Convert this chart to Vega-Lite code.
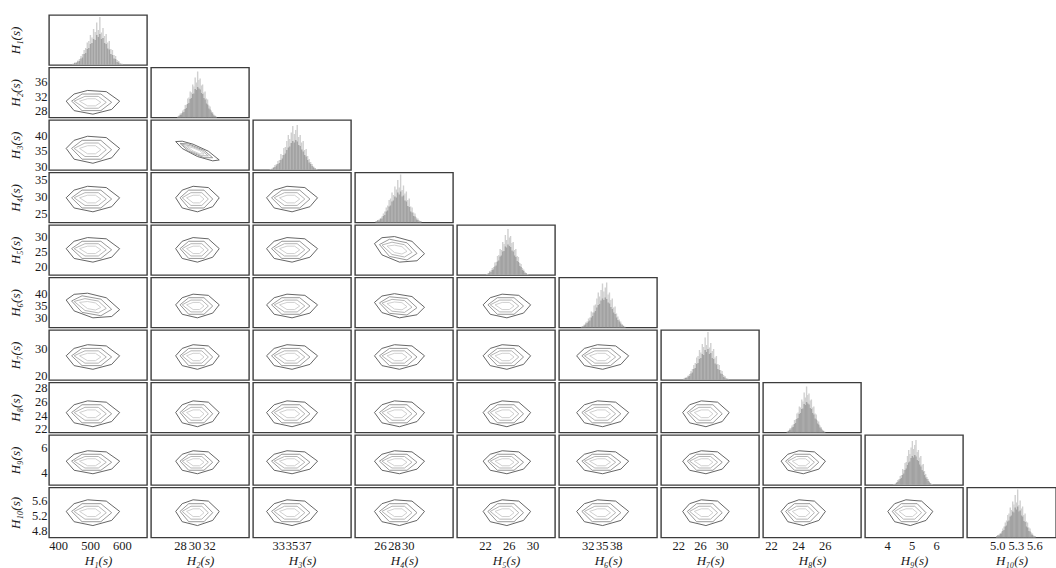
{
"$schema":"https://vega.github.io/schema/vega-lite/v6.json",
"background":"white",
"padding":{"left":8,"top":14,"right":0,"bottom":0},
"columns":10,
"spacing":{"row":2.5,"column":4},
"bounds":"flush",
"resolve":{"scale":{"x":"independent","y":"independent"}},
"config":{
"view":{"stroke":"#3c3c3c","strokeWidth":1.4},
"legend":{"disable":true},
"range":{"ordinal":["#555555","#8c8c8c","#adadad","#cbcbcb"]},
"line":{"interpolate":"linear-closed","strokeWidth":0.9},
"axis":{"labelFont":"Liberation Serif","labelFontSize":12.5,"labelColor":"#1a1a1a","titleFont":"Liberation Serif","titleFontStyle":"italic","titleFontWeight":"normal","titleFontSize":13,"titleColor":"#1a1a1a","domain":false,"ticks":false,"grid":false,"labelOverlap":false,"labelFlush":false,"labelPadding":2,"titlePadding":2}
},
"datasets":{
"h1":[{"x":438,"n":2,"m":3},{"x":443.5,"n":4,"m":5},{"x":449,"n":4,"m":6},{"x":454.5,"n":7,"m":9},{"x":460,"n":8,"m":12},{"x":465.5,"n":13,"m":18},{"x":471,"n":15,"m":22},{"x":476.5,"n":22,"m":30},{"x":482,"n":24,"m":34},{"x":487.5,"n":32,"m":45},{"x":493,"n":34,"m":48},{"x":498.5,"n":42,"m":60},{"x":504,"n":44,"m":55},{"x":509.5,"n":52,"m":72},{"x":515,"n":50,"m":66},{"x":520.5,"n":60,"m":85},{"x":526,"n":56,"m":70},{"x":531.5,"n":62,"m":96},{"x":537,"n":52,"m":65},{"x":542.5,"n":54,"m":74},{"x":548,"n":44,"m":58},{"x":553.5,"n":42,"m":62},{"x":559,"n":33,"m":45},{"x":564.5,"n":31,"m":48},{"x":570,"n":22,"m":32},{"x":575.5,"n":20,"m":30},{"x":581,"n":13,"m":20},{"x":586.5,"n":12,"m":18},{"x":592,"n":6,"m":10},{"x":597.5,"n":5,"m":8},{"x":603,"n":2,"m":4},{"x":608.5,"n":2,"m":3}],
"h2":[{"x":27.35,"n":1,"m":2},{"x":27.54,"n":3,"m":4},{"x":27.73,"n":5,"m":8},{"x":27.92,"n":6,"m":9},{"x":28.11,"n":10,"m":14},{"x":28.3,"n":11,"m":16},{"x":28.49,"n":17,"m":25},{"x":28.68,"n":19,"m":26},{"x":28.87,"n":27,"m":38},{"x":29.06,"n":29,"m":40},{"x":29.25,"n":37,"m":52},{"x":29.44,"n":39,"m":50},{"x":29.63,"n":47,"m":66},{"x":29.82,"n":48,"m":62},{"x":30.01,"n":57,"m":80},{"x":30.2,"n":55,"m":70},{"x":30.39,"n":61,"m":92},{"x":30.58,"n":58,"m":75},{"x":30.77,"n":56,"m":78},{"x":30.96,"n":49,"m":64},{"x":31.15,"n":47,"m":66},{"x":31.34,"n":39,"m":50},{"x":31.53,"n":36,"m":52},{"x":31.72,"n":28,"m":38},{"x":31.91,"n":26,"m":36},{"x":32.1,"n":18,"m":24},{"x":32.29,"n":16,"m":22},{"x":32.48,"n":10,"m":14},{"x":32.67,"n":8,"m":11},{"x":32.86,"n":4,"m":6},{"x":33.05,"n":3,"m":4},{"x":33.24,"n":1,"m":2}],
"h3":[{"x":31.3,"n":1,"m":2},{"x":31.55,"n":2,"m":3},{"x":31.8,"n":4,"m":6},{"x":32.05,"n":6,"m":10},{"x":32.3,"n":9,"m":12},{"x":32.55,"n":12,"m":18},{"x":32.8,"n":14,"m":20},{"x":33.05,"n":20,"m":32},{"x":33.3,"n":23,"m":30},{"x":33.55,"n":30,"m":44},{"x":33.8,"n":33,"m":46},{"x":34.05,"n":40,"m":58},{"x":34.3,"n":45,"m":70},{"x":34.55,"n":47,"m":62},{"x":34.8,"n":54,"m":75},{"x":35.05,"n":58,"m":88},{"x":35.3,"n":55,"m":72},{"x":35.55,"n":60,"m":80},{"x":35.8,"n":57,"m":90},{"x":36.05,"n":50,"m":66},{"x":36.3,"n":48,"m":70},{"x":36.55,"n":41,"m":55},{"x":36.8,"n":37,"m":58},{"x":37.05,"n":30,"m":40},{"x":37.3,"n":27,"m":42},{"x":37.55,"n":20,"m":28},{"x":37.8,"n":15,"m":22},{"x":38.05,"n":12,"m":16},{"x":38.3,"n":8,"m":12},{"x":38.55,"n":5,"m":7},{"x":38.8,"n":3,"m":4},{"x":39.05,"n":1,"m":2}],
"h4":[{"x":25,"n":2,"m":3},{"x":25.23,"n":4,"m":5},{"x":25.46,"n":4,"m":6},{"x":25.69,"n":7,"m":9},{"x":25.92,"n":8,"m":12},{"x":26.15,"n":13,"m":18},{"x":26.38,"n":15,"m":22},{"x":26.61,"n":22,"m":30},{"x":26.84,"n":24,"m":34},{"x":27.07,"n":32,"m":45},{"x":27.3,"n":34,"m":48},{"x":27.53,"n":42,"m":60},{"x":27.76,"n":44,"m":55},{"x":27.99,"n":52,"m":72},{"x":28.22,"n":50,"m":66},{"x":28.45,"n":60,"m":85},{"x":28.68,"n":56,"m":70},{"x":28.91,"n":62,"m":96},{"x":29.14,"n":52,"m":65},{"x":29.37,"n":54,"m":74},{"x":29.6,"n":44,"m":58},{"x":29.83,"n":42,"m":62},{"x":30.06,"n":33,"m":45},{"x":30.29,"n":31,"m":48},{"x":30.52,"n":22,"m":32},{"x":30.75,"n":20,"m":30},{"x":30.98,"n":13,"m":20},{"x":31.21,"n":12,"m":18},{"x":31.44,"n":6,"m":10},{"x":31.67,"n":5,"m":8},{"x":31.9,"n":2,"m":4},{"x":32.13,"n":2,"m":3}],
"h5":[{"x":22,"n":1,"m":2},{"x":22.25,"n":3,"m":4},{"x":22.49,"n":5,"m":8},{"x":22.74,"n":6,"m":9},{"x":22.98,"n":10,"m":14},{"x":23.23,"n":11,"m":16},{"x":23.47,"n":17,"m":25},{"x":23.72,"n":19,"m":26},{"x":23.96,"n":27,"m":38},{"x":24.21,"n":29,"m":40},{"x":24.45,"n":37,"m":52},{"x":24.7,"n":39,"m":50},{"x":24.94,"n":47,"m":66},{"x":25.19,"n":48,"m":62},{"x":25.43,"n":57,"m":80},{"x":25.68,"n":55,"m":70},{"x":25.92,"n":61,"m":92},{"x":26.17,"n":58,"m":75},{"x":26.41,"n":56,"m":78},{"x":26.66,"n":49,"m":64},{"x":26.9,"n":47,"m":66},{"x":27.15,"n":39,"m":50},{"x":27.39,"n":36,"m":52},{"x":27.64,"n":28,"m":38},{"x":27.88,"n":26,"m":36},{"x":28.13,"n":18,"m":24},{"x":28.37,"n":16,"m":22},{"x":28.62,"n":10,"m":14},{"x":28.86,"n":8,"m":11},{"x":29.11,"n":4,"m":6},{"x":29.35,"n":3,"m":4},{"x":29.6,"n":1,"m":2}],
"h6":[{"x":30,"n":1,"m":2},{"x":30.34,"n":2,"m":3},{"x":30.67,"n":4,"m":6},{"x":31,"n":6,"m":10},{"x":31.34,"n":9,"m":12},{"x":31.68,"n":12,"m":18},{"x":32.01,"n":14,"m":20},{"x":32.35,"n":20,"m":32},{"x":32.68,"n":23,"m":30},{"x":33.02,"n":30,"m":44},{"x":33.35,"n":33,"m":46},{"x":33.69,"n":40,"m":58},{"x":34.02,"n":45,"m":70},{"x":34.36,"n":47,"m":62},{"x":34.69,"n":54,"m":75},{"x":35.03,"n":58,"m":88},{"x":35.36,"n":55,"m":72},{"x":35.7,"n":60,"m":80},{"x":36.03,"n":57,"m":90},{"x":36.37,"n":50,"m":66},{"x":36.7,"n":48,"m":70},{"x":37.04,"n":41,"m":55},{"x":37.37,"n":37,"m":58},{"x":37.71,"n":30,"m":40},{"x":38.04,"n":27,"m":42},{"x":38.38,"n":20,"m":28},{"x":38.71,"n":15,"m":22},{"x":39.05,"n":12,"m":16},{"x":39.38,"n":8,"m":12},{"x":39.72,"n":5,"m":7},{"x":40.05,"n":3,"m":4},{"x":40.39,"n":1,"m":2}],
"h7":[{"x":22.5,"n":2,"m":3},{"x":22.79,"n":4,"m":5},{"x":23.08,"n":4,"m":6},{"x":23.37,"n":7,"m":9},{"x":23.66,"n":8,"m":12},{"x":23.95,"n":13,"m":18},{"x":24.24,"n":15,"m":22},{"x":24.53,"n":22,"m":30},{"x":24.82,"n":24,"m":34},{"x":25.11,"n":32,"m":45},{"x":25.4,"n":34,"m":48},{"x":25.69,"n":42,"m":60},{"x":25.98,"n":44,"m":55},{"x":26.27,"n":52,"m":72},{"x":26.56,"n":50,"m":66},{"x":26.85,"n":60,"m":85},{"x":27.14,"n":56,"m":70},{"x":27.43,"n":62,"m":96},{"x":27.72,"n":52,"m":65},{"x":28.01,"n":54,"m":74},{"x":28.3,"n":44,"m":58},{"x":28.59,"n":42,"m":62},{"x":28.88,"n":33,"m":45},{"x":29.17,"n":31,"m":48},{"x":29.46,"n":22,"m":32},{"x":29.75,"n":20,"m":30},{"x":30.04,"n":13,"m":20},{"x":30.33,"n":12,"m":18},{"x":30.62,"n":6,"m":10},{"x":30.91,"n":5,"m":8},{"x":31.2,"n":2,"m":4},{"x":31.49,"n":2,"m":3}],
"h8":[{"x":23,"n":1,"m":2},{"x":23.1,"n":3,"m":4},{"x":23.2,"n":5,"m":8},{"x":23.3,"n":6,"m":9},{"x":23.4,"n":10,"m":14},{"x":23.5,"n":11,"m":16},{"x":23.6,"n":17,"m":25},{"x":23.7,"n":19,"m":26},{"x":23.8,"n":27,"m":38},{"x":23.9,"n":29,"m":40},{"x":24,"n":37,"m":52},{"x":24.1,"n":39,"m":50},{"x":24.2,"n":47,"m":66},{"x":24.3,"n":48,"m":62},{"x":24.4,"n":57,"m":80},{"x":24.5,"n":55,"m":70},{"x":24.6,"n":61,"m":92},{"x":24.7,"n":58,"m":75},{"x":24.8,"n":56,"m":78},{"x":24.9,"n":49,"m":64},{"x":25,"n":47,"m":66},{"x":25.1,"n":39,"m":50},{"x":25.2,"n":36,"m":52},{"x":25.3,"n":28,"m":38},{"x":25.4,"n":26,"m":36},{"x":25.5,"n":18,"m":24},{"x":25.6,"n":16,"m":22},{"x":25.7,"n":10,"m":14},{"x":25.8,"n":8,"m":11},{"x":25.9,"n":4,"m":6},{"x":26,"n":3,"m":4},{"x":26.1,"n":1,"m":2}],
"h9":[{"x":4.2,"n":1,"m":2},{"x":4.255,"n":2,"m":3},{"x":4.31,"n":4,"m":6},{"x":4.365,"n":6,"m":10},{"x":4.42,"n":9,"m":12},{"x":4.475,"n":12,"m":18},{"x":4.53,"n":14,"m":20},{"x":4.585,"n":20,"m":32},{"x":4.64,"n":23,"m":30},{"x":4.695,"n":30,"m":44},{"x":4.75,"n":33,"m":46},{"x":4.805,"n":40,"m":58},{"x":4.86,"n":45,"m":70},{"x":4.915,"n":47,"m":62},{"x":4.97,"n":54,"m":75},{"x":5.025,"n":58,"m":88},{"x":5.08,"n":55,"m":72},{"x":5.135,"n":60,"m":80},{"x":5.19,"n":57,"m":90},{"x":5.245,"n":50,"m":66},{"x":5.3,"n":48,"m":70},{"x":5.355,"n":41,"m":55},{"x":5.41,"n":37,"m":58},{"x":5.465,"n":30,"m":40},{"x":5.52,"n":27,"m":42},{"x":5.575,"n":20,"m":28},{"x":5.63,"n":15,"m":22},{"x":5.685,"n":12,"m":16},{"x":5.74,"n":8,"m":12},{"x":5.795,"n":5,"m":7},{"x":5.85,"n":3,"m":4},{"x":5.905,"n":1,"m":2}],
"h10":[{"x":4.99,"n":2,"m":3},{"x":5.01,"n":4,"m":5},{"x":5.03,"n":4,"m":6},{"x":5.05,"n":7,"m":9},{"x":5.07,"n":8,"m":12},{"x":5.09,"n":13,"m":18},{"x":5.11,"n":15,"m":22},{"x":5.13,"n":22,"m":30},{"x":5.15,"n":24,"m":34},{"x":5.17,"n":32,"m":45},{"x":5.19,"n":34,"m":48},{"x":5.21,"n":42,"m":60},{"x":5.23,"n":44,"m":55},{"x":5.25,"n":52,"m":72},{"x":5.27,"n":50,"m":66},{"x":5.29,"n":60,"m":85},{"x":5.31,"n":56,"m":70},{"x":5.33,"n":62,"m":96},{"x":5.35,"n":52,"m":65},{"x":5.37,"n":54,"m":74},{"x":5.39,"n":44,"m":58},{"x":5.41,"n":42,"m":62},{"x":5.43,"n":33,"m":45},{"x":5.45,"n":31,"m":48},{"x":5.47,"n":22,"m":32},{"x":5.49,"n":20,"m":30},{"x":5.51,"n":13,"m":20},{"x":5.53,"n":12,"m":18},{"x":5.55,"n":6,"m":10},{"x":5.57,"n":5,"m":8},{"x":5.59,"n":2,"m":4},{"x":5.61,"n":2,"m":3}],
"k2_1":[{"l":0,"x":425,"y":30.62},{"l":0,"x":450,"y":32.54},{"l":0,"x":492,"y":33.5},{"l":0,"x":551,"y":33.18},{"l":0,"x":593,"y":30.62},{"l":0,"x":568,"y":28.38},{"l":0,"x":509,"y":27.1},{"l":0,"x":450,"y":28.06},{"l":1,"x":442,"y":30.62},{"l":1,"x":475,"y":32.54},{"l":1,"x":534,"y":32.54},{"l":1,"x":568,"y":30.3},{"l":1,"x":534,"y":28.06},{"l":1,"x":475,"y":28.06},{"l":2,"x":450,"y":30.62},{"l":2,"x":484,"y":31.9},{"l":2,"x":526,"y":31.9},{"l":2,"x":551,"y":30.3},{"l":2,"x":526,"y":28.7},{"l":2,"x":484,"y":28.7},{"l":3,"x":467,"y":30.62},{"l":3,"x":492,"y":31.26},{"l":3,"x":517,"y":31.26},{"l":3,"x":534,"y":30.3},{"l":3,"x":517,"y":29.34},{"l":3,"x":492,"y":29.34}],
"k3_1":[{"l":0,"x":425,"y":35.74},{"l":0,"x":450,"y":38.38},{"l":0,"x":492,"y":39.7},{"l":0,"x":551,"y":39.26},{"l":0,"x":593,"y":35.74},{"l":0,"x":568,"y":32.66},{"l":0,"x":509,"y":30.9},{"l":0,"x":450,"y":32.22},{"l":1,"x":442,"y":35.74},{"l":1,"x":475,"y":38.38},{"l":1,"x":534,"y":38.38},{"l":1,"x":568,"y":35.3},{"l":1,"x":534,"y":32.22},{"l":1,"x":475,"y":32.22},{"l":2,"x":450,"y":35.74},{"l":2,"x":484,"y":37.5},{"l":2,"x":526,"y":37.5},{"l":2,"x":551,"y":35.3},{"l":2,"x":526,"y":33.1},{"l":2,"x":484,"y":33.1},{"l":3,"x":467,"y":35.74},{"l":3,"x":492,"y":36.62},{"l":3,"x":517,"y":36.62},{"l":3,"x":534,"y":35.3},{"l":3,"x":517,"y":33.98},{"l":3,"x":492,"y":33.98}],
"k3_2":[{"l":0,"x":27.4,"y":37.97},{"l":0,"x":28.3,"y":38.09},{"l":0,"x":29.8,"y":37.1},{"l":0,"x":31.9,"y":34.83},{"l":0,"x":33.4,"y":31.97},{"l":0,"x":32.5,"y":31.68},{"l":0,"x":30.4,"y":33.1},{"l":0,"x":28.3,"y":35.71},{"l":1,"x":28,"y":37.37},{"l":1,"x":29.2,"y":37.19},{"l":1,"x":31.3,"y":35.09},{"l":1,"x":32.5,"y":32.7},{"l":1,"x":31.3,"y":32.71},{"l":1,"x":29.2,"y":34.81},{"l":2,"x":28.3,"y":37.07},{"l":2,"x":29.5,"y":36.55},{"l":2,"x":31,"y":35.05},{"l":2,"x":31.9,"y":33.3},{"l":2,"x":31,"y":33.35},{"l":2,"x":29.5,"y":34.85},{"l":3,"x":28.9,"y":36.47},{"l":3,"x":29.8,"y":35.91},{"l":3,"x":30.7,"y":35.01},{"l":3,"x":31.3,"y":33.9},{"l":3,"x":30.7,"y":33.99},{"l":3,"x":29.8,"y":34.89}],
"k4_1":[{"l":0,"x":425,"y":29.67},{"l":0,"x":450,"y":31.89},{"l":0,"x":492,"y":33},{"l":0,"x":551,"y":32.63},{"l":0,"x":593,"y":29.67},{"l":0,"x":568,"y":27.08},{"l":0,"x":509,"y":25.6},{"l":0,"x":450,"y":26.71},{"l":1,"x":442,"y":29.67},{"l":1,"x":475,"y":31.89},{"l":1,"x":534,"y":31.89},{"l":1,"x":568,"y":29.3},{"l":1,"x":534,"y":26.71},{"l":1,"x":475,"y":26.71},{"l":2,"x":450,"y":29.67},{"l":2,"x":484,"y":31.15},{"l":2,"x":526,"y":31.15},{"l":2,"x":551,"y":29.3},{"l":2,"x":526,"y":27.45},{"l":2,"x":484,"y":27.45},{"l":3,"x":467,"y":29.67},{"l":3,"x":492,"y":30.41},{"l":3,"x":517,"y":30.41},{"l":3,"x":534,"y":29.3},{"l":3,"x":517,"y":28.19},{"l":3,"x":492,"y":28.19}],
"k4_2":[{"l":0,"x":27.4,"y":29.67},{"l":0,"x":28.3,"y":31.89},{"l":0,"x":29.8,"y":33},{"l":0,"x":31.9,"y":32.63},{"l":0,"x":33.4,"y":29.67},{"l":0,"x":32.5,"y":27.08},{"l":0,"x":30.4,"y":25.6},{"l":0,"x":28.3,"y":26.71},{"l":1,"x":28,"y":29.67},{"l":1,"x":29.2,"y":31.89},{"l":1,"x":31.3,"y":31.89},{"l":1,"x":32.5,"y":29.3},{"l":1,"x":31.3,"y":26.71},{"l":1,"x":29.2,"y":26.71},{"l":2,"x":28.3,"y":29.67},{"l":2,"x":29.5,"y":31.15},{"l":2,"x":31,"y":31.15},{"l":2,"x":31.9,"y":29.3},{"l":2,"x":31,"y":27.45},{"l":2,"x":29.5,"y":27.45},{"l":3,"x":28.9,"y":29.67},{"l":3,"x":29.8,"y":30.41},{"l":3,"x":30.7,"y":30.41},{"l":3,"x":31.3,"y":29.3},{"l":3,"x":30.7,"y":28.19},{"l":3,"x":29.8,"y":28.19}],
"k4_3":[{"l":0,"x":31.25,"y":29.67},{"l":0,"x":32.4,"y":31.89},{"l":0,"x":34.33,"y":33},{"l":0,"x":37.03,"y":32.63},{"l":0,"x":38.95,"y":29.67},{"l":0,"x":37.8,"y":27.08},{"l":0,"x":35.1,"y":25.6},{"l":0,"x":32.4,"y":26.71},{"l":1,"x":32,"y":29.67},{"l":1,"x":33.56,"y":31.89},{"l":1,"x":36.26,"y":31.89},{"l":1,"x":37.8,"y":29.3},{"l":1,"x":36.26,"y":26.71},{"l":1,"x":33.56,"y":26.71},{"l":2,"x":32.4,"y":29.67},{"l":2,"x":33.95,"y":31.15},{"l":2,"x":35.87,"y":31.15},{"l":2,"x":37.03,"y":29.3},{"l":2,"x":35.87,"y":27.45},{"l":2,"x":33.95,"y":27.45},{"l":3,"x":33.2,"y":29.67},{"l":3,"x":34.33,"y":30.41},{"l":3,"x":35.49,"y":30.41},{"l":3,"x":36.26,"y":29.3},{"l":3,"x":35.49,"y":28.19},{"l":3,"x":34.33,"y":28.19}],
"k5_1":[{"l":0,"x":425,"y":26.01},{"l":0,"x":450,"y":28.47},{"l":0,"x":492,"y":29.7},{"l":0,"x":551,"y":29.29},{"l":0,"x":593,"y":26.01},{"l":0,"x":568,"y":23.14},{"l":0,"x":509,"y":21.5},{"l":0,"x":450,"y":22.73},{"l":1,"x":442,"y":26.01},{"l":1,"x":475,"y":28.47},{"l":1,"x":534,"y":28.47},{"l":1,"x":568,"y":25.6},{"l":1,"x":534,"y":22.73},{"l":1,"x":475,"y":22.73},{"l":2,"x":450,"y":26.01},{"l":2,"x":484,"y":27.65},{"l":2,"x":526,"y":27.65},{"l":2,"x":551,"y":25.6},{"l":2,"x":526,"y":23.55},{"l":2,"x":484,"y":23.55},{"l":3,"x":467,"y":26.01},{"l":3,"x":492,"y":26.83},{"l":3,"x":517,"y":26.83},{"l":3,"x":534,"y":25.6},{"l":3,"x":517,"y":24.37},{"l":3,"x":492,"y":24.37}],
"k5_2":[{"l":0,"x":27.4,"y":26.01},{"l":0,"x":28.3,"y":28.47},{"l":0,"x":29.8,"y":29.7},{"l":0,"x":31.9,"y":29.29},{"l":0,"x":33.4,"y":26.01},{"l":0,"x":32.5,"y":23.14},{"l":0,"x":30.4,"y":21.5},{"l":0,"x":28.3,"y":22.73},{"l":1,"x":28,"y":26.01},{"l":1,"x":29.2,"y":28.47},{"l":1,"x":31.3,"y":28.47},{"l":1,"x":32.5,"y":25.6},{"l":1,"x":31.3,"y":22.73},{"l":1,"x":29.2,"y":22.73},{"l":2,"x":28.3,"y":26.01},{"l":2,"x":29.5,"y":27.65},{"l":2,"x":31,"y":27.65},{"l":2,"x":31.9,"y":25.6},{"l":2,"x":31,"y":23.55},{"l":2,"x":29.5,"y":23.55},{"l":3,"x":28.9,"y":26.01},{"l":3,"x":29.8,"y":26.83},{"l":3,"x":30.7,"y":26.83},{"l":3,"x":31.3,"y":25.6},{"l":3,"x":30.7,"y":24.37},{"l":3,"x":29.8,"y":24.37}],
"k5_3":[{"l":0,"x":31.25,"y":26.01},{"l":0,"x":32.4,"y":28.47},{"l":0,"x":34.33,"y":29.7},{"l":0,"x":37.03,"y":29.29},{"l":0,"x":38.95,"y":26.01},{"l":0,"x":37.8,"y":23.14},{"l":0,"x":35.1,"y":21.5},{"l":0,"x":32.4,"y":22.73},{"l":1,"x":32,"y":26.01},{"l":1,"x":33.56,"y":28.47},{"l":1,"x":36.26,"y":28.47},{"l":1,"x":37.8,"y":25.6},{"l":1,"x":36.26,"y":22.73},{"l":1,"x":33.56,"y":22.73},{"l":2,"x":32.4,"y":26.01},{"l":2,"x":33.95,"y":27.65},{"l":2,"x":35.87,"y":27.65},{"l":2,"x":37.03,"y":25.6},{"l":2,"x":35.87,"y":23.55},{"l":2,"x":33.95,"y":23.55},{"l":3,"x":33.2,"y":26.01},{"l":3,"x":34.33,"y":26.83},{"l":3,"x":35.49,"y":26.83},{"l":3,"x":36.26,"y":25.6},{"l":3,"x":35.49,"y":24.37},{"l":3,"x":34.33,"y":24.37}],
"k5_4":[{"l":0,"x":25.2,"y":27.71},{"l":0,"x":26.28,"y":29.66},{"l":0,"x":28.08,"y":30.04},{"l":0,"x":30.6,"y":28.44},{"l":0,"x":32.4,"y":24.31},{"l":0,"x":31.32,"y":21.95},{"l":0,"x":28.8,"y":21.5},{"l":0,"x":26.28,"y":23.92},{"l":1,"x":25.92,"y":27.37},{"l":1,"x":27.36,"y":29.15},{"l":1,"x":29.88,"y":27.96},{"l":1,"x":31.32,"y":24.41},{"l":1,"x":29.88,"y":22.22},{"l":1,"x":27.36,"y":23.41},{"l":2,"x":26.28,"y":27.2},{"l":2,"x":27.72,"y":28.16},{"l":2,"x":29.52,"y":27.31},{"l":2,"x":30.6,"y":24.75},{"l":2,"x":29.52,"y":23.21},{"l":2,"x":27.72,"y":24.06},{"l":3,"x":27,"y":26.86},{"l":3,"x":28.08,"y":27.17},{"l":3,"x":29.16,"y":26.66},{"l":3,"x":29.88,"y":25.09},{"l":3,"x":29.16,"y":24.2},{"l":3,"x":28.08,"y":24.71}],
"k6_1":[{"l":0,"x":425,"y":37.39},{"l":0,"x":450,"y":39.73},{"l":0,"x":492,"y":40.2},{"l":0,"x":551,"y":38.31},{"l":0,"x":593,"y":33.39},{"l":0,"x":568,"y":30.56},{"l":0,"x":509,"y":30},{"l":0,"x":450,"y":32.87},{"l":1,"x":442,"y":36.99},{"l":1,"x":475,"y":39.13},{"l":1,"x":534,"y":37.73},{"l":1,"x":568,"y":33.5},{"l":1,"x":534,"y":30.87},{"l":1,"x":475,"y":32.27},{"l":2,"x":450,"y":36.79},{"l":2,"x":484,"y":37.95},{"l":2,"x":526,"y":36.95},{"l":2,"x":551,"y":33.9},{"l":2,"x":526,"y":32.05},{"l":2,"x":484,"y":33.05},{"l":3,"x":467,"y":36.39},{"l":3,"x":492,"y":36.77},{"l":3,"x":517,"y":36.17},{"l":3,"x":534,"y":34.3},{"l":3,"x":517,"y":33.23},{"l":3,"x":492,"y":33.83}],
"k6_2":[{"l":0,"x":27.4,"y":35.39},{"l":0,"x":28.3,"y":38.33},{"l":0,"x":29.8,"y":39.8},{"l":0,"x":31.9,"y":39.31},{"l":0,"x":33.4,"y":35.39},{"l":0,"x":32.5,"y":31.96},{"l":0,"x":30.4,"y":30},{"l":0,"x":28.3,"y":31.47},{"l":1,"x":28,"y":35.39},{"l":1,"x":29.2,"y":38.33},{"l":1,"x":31.3,"y":38.33},{"l":1,"x":32.5,"y":34.9},{"l":1,"x":31.3,"y":31.47},{"l":1,"x":29.2,"y":31.47},{"l":2,"x":28.3,"y":35.39},{"l":2,"x":29.5,"y":37.35},{"l":2,"x":31,"y":37.35},{"l":2,"x":31.9,"y":34.9},{"l":2,"x":31,"y":32.45},{"l":2,"x":29.5,"y":32.45},{"l":3,"x":28.9,"y":35.39},{"l":3,"x":29.8,"y":36.37},{"l":3,"x":30.7,"y":36.37},{"l":3,"x":31.3,"y":34.9},{"l":3,"x":30.7,"y":33.43},{"l":3,"x":29.8,"y":33.43}],
"k6_3":[{"l":0,"x":31.25,"y":35.39},{"l":0,"x":32.4,"y":38.33},{"l":0,"x":34.33,"y":39.8},{"l":0,"x":37.03,"y":39.31},{"l":0,"x":38.95,"y":35.39},{"l":0,"x":37.8,"y":31.96},{"l":0,"x":35.1,"y":30},{"l":0,"x":32.4,"y":31.47},{"l":1,"x":32,"y":35.39},{"l":1,"x":33.56,"y":38.33},{"l":1,"x":36.26,"y":38.33},{"l":1,"x":37.8,"y":34.9},{"l":1,"x":36.26,"y":31.47},{"l":1,"x":33.56,"y":31.47},{"l":2,"x":32.4,"y":35.39},{"l":2,"x":33.95,"y":37.35},{"l":2,"x":35.87,"y":37.35},{"l":2,"x":37.03,"y":34.9},{"l":2,"x":35.87,"y":32.45},{"l":2,"x":33.95,"y":32.45},{"l":3,"x":33.2,"y":35.39},{"l":3,"x":34.33,"y":36.37},{"l":3,"x":35.49,"y":36.37},{"l":3,"x":36.26,"y":34.9},{"l":3,"x":35.49,"y":33.43},{"l":3,"x":34.33,"y":33.43}],
"k6_4":[{"l":0,"x":25.2,"y":36.39},{"l":0,"x":26.28,"y":39.03},{"l":0,"x":28.08,"y":40},{"l":0,"x":30.6,"y":38.81},{"l":0,"x":32.4,"y":34.39},{"l":0,"x":31.32,"y":31.26},{"l":0,"x":28.8,"y":30},{"l":0,"x":26.28,"y":32.17},{"l":1,"x":25.92,"y":36.19},{"l":1,"x":27.36,"y":38.73},{"l":1,"x":29.88,"y":38.03},{"l":1,"x":31.32,"y":34.2},{"l":1,"x":29.88,"y":31.17},{"l":1,"x":27.36,"y":31.87},{"l":2,"x":26.28,"y":36.09},{"l":2,"x":27.72,"y":37.65},{"l":2,"x":29.52,"y":37.15},{"l":2,"x":30.6,"y":34.4},{"l":2,"x":29.52,"y":32.25},{"l":2,"x":27.72,"y":32.75},{"l":3,"x":27,"y":35.89},{"l":3,"x":28.08,"y":36.57},{"l":3,"x":29.16,"y":36.27},{"l":3,"x":29.88,"y":34.6},{"l":3,"x":29.16,"y":33.33},{"l":3,"x":28.08,"y":33.63}],
"k6_5":[{"l":0,"x":21.7,"y":35.39},{"l":0,"x":22.9,"y":38.33},{"l":0,"x":24.9,"y":39.8},{"l":0,"x":27.7,"y":39.31},{"l":0,"x":29.7,"y":35.39},{"l":0,"x":28.5,"y":31.96},{"l":0,"x":25.7,"y":30},{"l":0,"x":22.9,"y":31.47},{"l":1,"x":22.5,"y":35.39},{"l":1,"x":24.1,"y":38.33},{"l":1,"x":26.9,"y":38.33},{"l":1,"x":28.5,"y":34.9},{"l":1,"x":26.9,"y":31.47},{"l":1,"x":24.1,"y":31.47},{"l":2,"x":22.9,"y":35.39},{"l":2,"x":24.5,"y":37.35},{"l":2,"x":26.5,"y":37.35},{"l":2,"x":27.7,"y":34.9},{"l":2,"x":26.5,"y":32.45},{"l":2,"x":24.5,"y":32.45},{"l":3,"x":23.7,"y":35.39},{"l":3,"x":24.9,"y":36.37},{"l":3,"x":26.1,"y":36.37},{"l":3,"x":26.9,"y":34.9},{"l":3,"x":26.1,"y":33.43},{"l":3,"x":24.9,"y":33.43}],
"k7_1":[{"l":0,"x":425,"y":27.46},{"l":0,"x":450,"y":30.22},{"l":0,"x":492,"y":31.6},{"l":0,"x":551,"y":31.14},{"l":0,"x":593,"y":27.46},{"l":0,"x":568,"y":24.24},{"l":0,"x":509,"y":22.4},{"l":0,"x":450,"y":23.78},{"l":1,"x":442,"y":27.46},{"l":1,"x":475,"y":30.22},{"l":1,"x":534,"y":30.22},{"l":1,"x":568,"y":27},{"l":1,"x":534,"y":23.78},{"l":1,"x":475,"y":23.78},{"l":2,"x":450,"y":27.46},{"l":2,"x":484,"y":29.3},{"l":2,"x":526,"y":29.3},{"l":2,"x":551,"y":27},{"l":2,"x":526,"y":24.7},{"l":2,"x":484,"y":24.7},{"l":3,"x":467,"y":27.46},{"l":3,"x":492,"y":28.38},{"l":3,"x":517,"y":28.38},{"l":3,"x":534,"y":27},{"l":3,"x":517,"y":25.62},{"l":3,"x":492,"y":25.62}],
"k7_2":[{"l":0,"x":27.4,"y":27.46},{"l":0,"x":28.3,"y":30.22},{"l":0,"x":29.8,"y":31.6},{"l":0,"x":31.9,"y":31.14},{"l":0,"x":33.4,"y":27.46},{"l":0,"x":32.5,"y":24.24},{"l":0,"x":30.4,"y":22.4},{"l":0,"x":28.3,"y":23.78},{"l":1,"x":28,"y":27.46},{"l":1,"x":29.2,"y":30.22},{"l":1,"x":31.3,"y":30.22},{"l":1,"x":32.5,"y":27},{"l":1,"x":31.3,"y":23.78},{"l":1,"x":29.2,"y":23.78},{"l":2,"x":28.3,"y":27.46},{"l":2,"x":29.5,"y":29.3},{"l":2,"x":31,"y":29.3},{"l":2,"x":31.9,"y":27},{"l":2,"x":31,"y":24.7},{"l":2,"x":29.5,"y":24.7},{"l":3,"x":28.9,"y":27.46},{"l":3,"x":29.8,"y":28.38},{"l":3,"x":30.7,"y":28.38},{"l":3,"x":31.3,"y":27},{"l":3,"x":30.7,"y":25.62},{"l":3,"x":29.8,"y":25.62}],
"k7_3":[{"l":0,"x":31.25,"y":27.46},{"l":0,"x":32.4,"y":30.22},{"l":0,"x":34.33,"y":31.6},{"l":0,"x":37.03,"y":31.14},{"l":0,"x":38.95,"y":27.46},{"l":0,"x":37.8,"y":24.24},{"l":0,"x":35.1,"y":22.4},{"l":0,"x":32.4,"y":23.78},{"l":1,"x":32,"y":27.46},{"l":1,"x":33.56,"y":30.22},{"l":1,"x":36.26,"y":30.22},{"l":1,"x":37.8,"y":27},{"l":1,"x":36.26,"y":23.78},{"l":1,"x":33.56,"y":23.78},{"l":2,"x":32.4,"y":27.46},{"l":2,"x":33.95,"y":29.3},{"l":2,"x":35.87,"y":29.3},{"l":2,"x":37.03,"y":27},{"l":2,"x":35.87,"y":24.7},{"l":2,"x":33.95,"y":24.7},{"l":3,"x":33.2,"y":27.46},{"l":3,"x":34.33,"y":28.38},{"l":3,"x":35.49,"y":28.38},{"l":3,"x":36.26,"y":27},{"l":3,"x":35.49,"y":25.62},{"l":3,"x":34.33,"y":25.62}],
"k7_4":[{"l":0,"x":25.2,"y":27.46},{"l":0,"x":26.28,"y":30.22},{"l":0,"x":28.08,"y":31.6},{"l":0,"x":30.6,"y":31.14},{"l":0,"x":32.4,"y":27.46},{"l":0,"x":31.32,"y":24.24},{"l":0,"x":28.8,"y":22.4},{"l":0,"x":26.28,"y":23.78},{"l":1,"x":25.92,"y":27.46},{"l":1,"x":27.36,"y":30.22},{"l":1,"x":29.88,"y":30.22},{"l":1,"x":31.32,"y":27},{"l":1,"x":29.88,"y":23.78},{"l":1,"x":27.36,"y":23.78},{"l":2,"x":26.28,"y":27.46},{"l":2,"x":27.72,"y":29.3},{"l":2,"x":29.52,"y":29.3},{"l":2,"x":30.6,"y":27},{"l":2,"x":29.52,"y":24.7},{"l":2,"x":27.72,"y":24.7},{"l":3,"x":27,"y":27.46},{"l":3,"x":28.08,"y":28.38},{"l":3,"x":29.16,"y":28.38},{"l":3,"x":29.88,"y":27},{"l":3,"x":29.16,"y":25.62},{"l":3,"x":28.08,"y":25.62}],
"k7_5":[{"l":0,"x":21.7,"y":27.46},{"l":0,"x":22.9,"y":30.22},{"l":0,"x":24.9,"y":31.6},{"l":0,"x":27.7,"y":31.14},{"l":0,"x":29.7,"y":27.46},{"l":0,"x":28.5,"y":24.24},{"l":0,"x":25.7,"y":22.4},{"l":0,"x":22.9,"y":23.78},{"l":1,"x":22.5,"y":27.46},{"l":1,"x":24.1,"y":30.22},{"l":1,"x":26.9,"y":30.22},{"l":1,"x":28.5,"y":27},{"l":1,"x":26.9,"y":23.78},{"l":1,"x":24.1,"y":23.78},{"l":2,"x":22.9,"y":27.46},{"l":2,"x":24.5,"y":29.3},{"l":2,"x":26.5,"y":29.3},{"l":2,"x":27.7,"y":27},{"l":2,"x":26.5,"y":24.7},{"l":2,"x":24.5,"y":24.7},{"l":3,"x":23.7,"y":27.46},{"l":3,"x":24.9,"y":28.38},{"l":3,"x":26.1,"y":28.38},{"l":3,"x":26.9,"y":27},{"l":3,"x":26.1,"y":25.62},{"l":3,"x":24.9,"y":25.62}],
"k7_6":[{"l":0,"x":29.6,"y":27.46},{"l":0,"x":31.28,"y":30.22},{"l":0,"x":34.08,"y":31.6},{"l":0,"x":38,"y":31.14},{"l":0,"x":40.8,"y":27.46},{"l":0,"x":39.12,"y":24.24},{"l":0,"x":35.2,"y":22.4},{"l":0,"x":31.28,"y":23.78},{"l":1,"x":30.72,"y":27.46},{"l":1,"x":32.96,"y":30.22},{"l":1,"x":36.88,"y":30.22},{"l":1,"x":39.12,"y":27},{"l":1,"x":36.88,"y":23.78},{"l":1,"x":32.96,"y":23.78},{"l":2,"x":31.28,"y":27.46},{"l":2,"x":33.52,"y":29.3},{"l":2,"x":36.32,"y":29.3},{"l":2,"x":38,"y":27},{"l":2,"x":36.32,"y":24.7},{"l":2,"x":33.52,"y":24.7},{"l":3,"x":32.4,"y":27.46},{"l":3,"x":34.08,"y":28.38},{"l":3,"x":35.76,"y":28.38},{"l":3,"x":36.88,"y":27},{"l":3,"x":35.76,"y":25.62},{"l":3,"x":34.08,"y":25.62}],
"k8_1":[{"l":0,"x":425,"y":24.39},{"l":0,"x":450,"y":25.53},{"l":0,"x":492,"y":26.1},{"l":0,"x":551,"y":25.91},{"l":0,"x":593,"y":24.39},{"l":0,"x":568,"y":23.06},{"l":0,"x":509,"y":22.3},{"l":0,"x":450,"y":22.87},{"l":1,"x":442,"y":24.39},{"l":1,"x":475,"y":25.53},{"l":1,"x":534,"y":25.53},{"l":1,"x":568,"y":24.2},{"l":1,"x":534,"y":22.87},{"l":1,"x":475,"y":22.87},{"l":2,"x":450,"y":24.39},{"l":2,"x":484,"y":25.15},{"l":2,"x":526,"y":25.15},{"l":2,"x":551,"y":24.2},{"l":2,"x":526,"y":23.25},{"l":2,"x":484,"y":23.25},{"l":3,"x":467,"y":24.39},{"l":3,"x":492,"y":24.77},{"l":3,"x":517,"y":24.77},{"l":3,"x":534,"y":24.2},{"l":3,"x":517,"y":23.63},{"l":3,"x":492,"y":23.63}],
"k8_2":[{"l":0,"x":27.4,"y":24.39},{"l":0,"x":28.3,"y":25.53},{"l":0,"x":29.8,"y":26.1},{"l":0,"x":31.9,"y":25.91},{"l":0,"x":33.4,"y":24.39},{"l":0,"x":32.5,"y":23.06},{"l":0,"x":30.4,"y":22.3},{"l":0,"x":28.3,"y":22.87},{"l":1,"x":28,"y":24.39},{"l":1,"x":29.2,"y":25.53},{"l":1,"x":31.3,"y":25.53},{"l":1,"x":32.5,"y":24.2},{"l":1,"x":31.3,"y":22.87},{"l":1,"x":29.2,"y":22.87},{"l":2,"x":28.3,"y":24.39},{"l":2,"x":29.5,"y":25.15},{"l":2,"x":31,"y":25.15},{"l":2,"x":31.9,"y":24.2},{"l":2,"x":31,"y":23.25},{"l":2,"x":29.5,"y":23.25},{"l":3,"x":28.9,"y":24.39},{"l":3,"x":29.8,"y":24.77},{"l":3,"x":30.7,"y":24.77},{"l":3,"x":31.3,"y":24.2},{"l":3,"x":30.7,"y":23.63},{"l":3,"x":29.8,"y":23.63}],
"k8_3":[{"l":0,"x":31.25,"y":24.39},{"l":0,"x":32.4,"y":25.53},{"l":0,"x":34.33,"y":26.1},{"l":0,"x":37.03,"y":25.91},{"l":0,"x":38.95,"y":24.39},{"l":0,"x":37.8,"y":23.06},{"l":0,"x":35.1,"y":22.3},{"l":0,"x":32.4,"y":22.87},{"l":1,"x":32,"y":24.39},{"l":1,"x":33.56,"y":25.53},{"l":1,"x":36.26,"y":25.53},{"l":1,"x":37.8,"y":24.2},{"l":1,"x":36.26,"y":22.87},{"l":1,"x":33.56,"y":22.87},{"l":2,"x":32.4,"y":24.39},{"l":2,"x":33.95,"y":25.15},{"l":2,"x":35.87,"y":25.15},{"l":2,"x":37.03,"y":24.2},{"l":2,"x":35.87,"y":23.25},{"l":2,"x":33.95,"y":23.25},{"l":3,"x":33.2,"y":24.39},{"l":3,"x":34.33,"y":24.77},{"l":3,"x":35.49,"y":24.77},{"l":3,"x":36.26,"y":24.2},{"l":3,"x":35.49,"y":23.63},{"l":3,"x":34.33,"y":23.63}],
"k8_4":[{"l":0,"x":25.2,"y":24.39},{"l":0,"x":26.28,"y":25.53},{"l":0,"x":28.08,"y":26.1},{"l":0,"x":30.6,"y":25.91},{"l":0,"x":32.4,"y":24.39},{"l":0,"x":31.32,"y":23.06},{"l":0,"x":28.8,"y":22.3},{"l":0,"x":26.28,"y":22.87},{"l":1,"x":25.92,"y":24.39},{"l":1,"x":27.36,"y":25.53},{"l":1,"x":29.88,"y":25.53},{"l":1,"x":31.32,"y":24.2},{"l":1,"x":29.88,"y":22.87},{"l":1,"x":27.36,"y":22.87},{"l":2,"x":26.28,"y":24.39},{"l":2,"x":27.72,"y":25.15},{"l":2,"x":29.52,"y":25.15},{"l":2,"x":30.6,"y":24.2},{"l":2,"x":29.52,"y":23.25},{"l":2,"x":27.72,"y":23.25},{"l":3,"x":27,"y":24.39},{"l":3,"x":28.08,"y":24.77},{"l":3,"x":29.16,"y":24.77},{"l":3,"x":29.88,"y":24.2},{"l":3,"x":29.16,"y":23.63},{"l":3,"x":28.08,"y":23.63}],
"k8_5":[{"l":0,"x":21.7,"y":24.39},{"l":0,"x":22.9,"y":25.53},{"l":0,"x":24.9,"y":26.1},{"l":0,"x":27.7,"y":25.91},{"l":0,"x":29.7,"y":24.39},{"l":0,"x":28.5,"y":23.06},{"l":0,"x":25.7,"y":22.3},{"l":0,"x":22.9,"y":22.87},{"l":1,"x":22.5,"y":24.39},{"l":1,"x":24.1,"y":25.53},{"l":1,"x":26.9,"y":25.53},{"l":1,"x":28.5,"y":24.2},{"l":1,"x":26.9,"y":22.87},{"l":1,"x":24.1,"y":22.87},{"l":2,"x":22.9,"y":24.39},{"l":2,"x":24.5,"y":25.15},{"l":2,"x":26.5,"y":25.15},{"l":2,"x":27.7,"y":24.2},{"l":2,"x":26.5,"y":23.25},{"l":2,"x":24.5,"y":23.25},{"l":3,"x":23.7,"y":24.39},{"l":3,"x":24.9,"y":24.77},{"l":3,"x":26.1,"y":24.77},{"l":3,"x":26.9,"y":24.2},{"l":3,"x":26.1,"y":23.63},{"l":3,"x":24.9,"y":23.63}],
"k8_6":[{"l":0,"x":29.6,"y":24.39},{"l":0,"x":31.28,"y":25.53},{"l":0,"x":34.08,"y":26.1},{"l":0,"x":38,"y":25.91},{"l":0,"x":40.8,"y":24.39},{"l":0,"x":39.12,"y":23.06},{"l":0,"x":35.2,"y":22.3},{"l":0,"x":31.28,"y":22.87},{"l":1,"x":30.72,"y":24.39},{"l":1,"x":32.96,"y":25.53},{"l":1,"x":36.88,"y":25.53},{"l":1,"x":39.12,"y":24.2},{"l":1,"x":36.88,"y":22.87},{"l":1,"x":32.96,"y":22.87},{"l":2,"x":31.28,"y":24.39},{"l":2,"x":33.52,"y":25.15},{"l":2,"x":36.32,"y":25.15},{"l":2,"x":38,"y":24.2},{"l":2,"x":36.32,"y":23.25},{"l":2,"x":33.52,"y":23.25},{"l":3,"x":32.4,"y":24.39},{"l":3,"x":34.08,"y":24.77},{"l":3,"x":35.76,"y":24.77},{"l":3,"x":36.88,"y":24.2},{"l":3,"x":35.76,"y":23.63},{"l":3,"x":34.08,"y":23.63}],
"k8_7":[{"l":0,"x":22.8,"y":24.39},{"l":0,"x":24.09,"y":25.53},{"l":0,"x":26.24,"y":26.1},{"l":0,"x":29.25,"y":25.91},{"l":0,"x":31.4,"y":24.39},{"l":0,"x":30.11,"y":23.06},{"l":0,"x":27.1,"y":22.3},{"l":0,"x":24.09,"y":22.87},{"l":1,"x":23.66,"y":24.39},{"l":1,"x":25.38,"y":25.53},{"l":1,"x":28.39,"y":25.53},{"l":1,"x":30.11,"y":24.2},{"l":1,"x":28.39,"y":22.87},{"l":1,"x":25.38,"y":22.87},{"l":2,"x":24.09,"y":24.39},{"l":2,"x":25.81,"y":25.15},{"l":2,"x":27.96,"y":25.15},{"l":2,"x":29.25,"y":24.2},{"l":2,"x":27.96,"y":23.25},{"l":2,"x":25.81,"y":23.25},{"l":3,"x":24.95,"y":24.39},{"l":3,"x":26.24,"y":24.77},{"l":3,"x":27.53,"y":24.77},{"l":3,"x":28.39,"y":24.2},{"l":3,"x":27.53,"y":23.63},{"l":3,"x":26.24,"y":23.63}],
"k9_1":[{"l":0,"x":425,"y":4.91},{"l":0,"x":450,"y":5.46},{"l":0,"x":492,"y":5.74},{"l":0,"x":551,"y":5.65},{"l":0,"x":593,"y":4.91},{"l":0,"x":568,"y":4.27},{"l":0,"x":509,"y":3.9},{"l":0,"x":450,"y":4.18},{"l":1,"x":442,"y":4.91},{"l":1,"x":475,"y":5.46},{"l":1,"x":534,"y":5.46},{"l":1,"x":568,"y":4.82},{"l":1,"x":534,"y":4.18},{"l":1,"x":475,"y":4.18},{"l":2,"x":450,"y":4.91},{"l":2,"x":484,"y":5.28},{"l":2,"x":526,"y":5.28},{"l":2,"x":551,"y":4.82},{"l":2,"x":526,"y":4.36},{"l":2,"x":484,"y":4.36},{"l":3,"x":467,"y":4.91},{"l":3,"x":492,"y":5.1},{"l":3,"x":517,"y":5.1},{"l":3,"x":534,"y":4.82},{"l":3,"x":517,"y":4.54},{"l":3,"x":492,"y":4.54}],
"k9_2":[{"l":0,"x":27.4,"y":4.91},{"l":0,"x":28.3,"y":5.46},{"l":0,"x":29.8,"y":5.74},{"l":0,"x":31.9,"y":5.65},{"l":0,"x":33.4,"y":4.91},{"l":0,"x":32.5,"y":4.27},{"l":0,"x":30.4,"y":3.9},{"l":0,"x":28.3,"y":4.18},{"l":1,"x":28,"y":4.91},{"l":1,"x":29.2,"y":5.46},{"l":1,"x":31.3,"y":5.46},{"l":1,"x":32.5,"y":4.82},{"l":1,"x":31.3,"y":4.18},{"l":1,"x":29.2,"y":4.18},{"l":2,"x":28.3,"y":4.91},{"l":2,"x":29.5,"y":5.28},{"l":2,"x":31,"y":5.28},{"l":2,"x":31.9,"y":4.82},{"l":2,"x":31,"y":4.36},{"l":2,"x":29.5,"y":4.36},{"l":3,"x":28.9,"y":4.91},{"l":3,"x":29.8,"y":5.1},{"l":3,"x":30.7,"y":5.1},{"l":3,"x":31.3,"y":4.82},{"l":3,"x":30.7,"y":4.54},{"l":3,"x":29.8,"y":4.54}],
"k9_3":[{"l":0,"x":31.25,"y":4.91},{"l":0,"x":32.4,"y":5.46},{"l":0,"x":34.33,"y":5.74},{"l":0,"x":37.03,"y":5.65},{"l":0,"x":38.95,"y":4.91},{"l":0,"x":37.8,"y":4.27},{"l":0,"x":35.1,"y":3.9},{"l":0,"x":32.4,"y":4.18},{"l":1,"x":32,"y":4.91},{"l":1,"x":33.56,"y":5.46},{"l":1,"x":36.26,"y":5.46},{"l":1,"x":37.8,"y":4.82},{"l":1,"x":36.26,"y":4.18},{"l":1,"x":33.56,"y":4.18},{"l":2,"x":32.4,"y":4.91},{"l":2,"x":33.95,"y":5.28},{"l":2,"x":35.87,"y":5.28},{"l":2,"x":37.03,"y":4.82},{"l":2,"x":35.87,"y":4.36},{"l":2,"x":33.95,"y":4.36},{"l":3,"x":33.2,"y":4.91},{"l":3,"x":34.33,"y":5.1},{"l":3,"x":35.49,"y":5.1},{"l":3,"x":36.26,"y":4.82},{"l":3,"x":35.49,"y":4.54},{"l":3,"x":34.33,"y":4.54}],
"k9_4":[{"l":0,"x":25.2,"y":4.91},{"l":0,"x":26.28,"y":5.46},{"l":0,"x":28.08,"y":5.74},{"l":0,"x":30.6,"y":5.65},{"l":0,"x":32.4,"y":4.91},{"l":0,"x":31.32,"y":4.27},{"l":0,"x":28.8,"y":3.9},{"l":0,"x":26.28,"y":4.18},{"l":1,"x":25.92,"y":4.91},{"l":1,"x":27.36,"y":5.46},{"l":1,"x":29.88,"y":5.46},{"l":1,"x":31.32,"y":4.82},{"l":1,"x":29.88,"y":4.18},{"l":1,"x":27.36,"y":4.18},{"l":2,"x":26.28,"y":4.91},{"l":2,"x":27.72,"y":5.28},{"l":2,"x":29.52,"y":5.28},{"l":2,"x":30.6,"y":4.82},{"l":2,"x":29.52,"y":4.36},{"l":2,"x":27.72,"y":4.36},{"l":3,"x":27,"y":4.91},{"l":3,"x":28.08,"y":5.1},{"l":3,"x":29.16,"y":5.1},{"l":3,"x":29.88,"y":4.82},{"l":3,"x":29.16,"y":4.54},{"l":3,"x":28.08,"y":4.54}],
"k9_5":[{"l":0,"x":21.7,"y":4.91},{"l":0,"x":22.9,"y":5.46},{"l":0,"x":24.9,"y":5.74},{"l":0,"x":27.7,"y":5.65},{"l":0,"x":29.7,"y":4.91},{"l":0,"x":28.5,"y":4.27},{"l":0,"x":25.7,"y":3.9},{"l":0,"x":22.9,"y":4.18},{"l":1,"x":22.5,"y":4.91},{"l":1,"x":24.1,"y":5.46},{"l":1,"x":26.9,"y":5.46},{"l":1,"x":28.5,"y":4.82},{"l":1,"x":26.9,"y":4.18},{"l":1,"x":24.1,"y":4.18},{"l":2,"x":22.9,"y":4.91},{"l":2,"x":24.5,"y":5.28},{"l":2,"x":26.5,"y":5.28},{"l":2,"x":27.7,"y":4.82},{"l":2,"x":26.5,"y":4.36},{"l":2,"x":24.5,"y":4.36},{"l":3,"x":23.7,"y":4.91},{"l":3,"x":24.9,"y":5.1},{"l":3,"x":26.1,"y":5.1},{"l":3,"x":26.9,"y":4.82},{"l":3,"x":26.1,"y":4.54},{"l":3,"x":24.9,"y":4.54}],
"k9_6":[{"l":0,"x":29.6,"y":4.91},{"l":0,"x":31.28,"y":5.46},{"l":0,"x":34.08,"y":5.74},{"l":0,"x":38,"y":5.65},{"l":0,"x":40.8,"y":4.91},{"l":0,"x":39.12,"y":4.27},{"l":0,"x":35.2,"y":3.9},{"l":0,"x":31.28,"y":4.18},{"l":1,"x":30.72,"y":4.91},{"l":1,"x":32.96,"y":5.46},{"l":1,"x":36.88,"y":5.46},{"l":1,"x":39.12,"y":4.82},{"l":1,"x":36.88,"y":4.18},{"l":1,"x":32.96,"y":4.18},{"l":2,"x":31.28,"y":4.91},{"l":2,"x":33.52,"y":5.28},{"l":2,"x":36.32,"y":5.28},{"l":2,"x":38,"y":4.82},{"l":2,"x":36.32,"y":4.36},{"l":2,"x":33.52,"y":4.36},{"l":3,"x":32.4,"y":4.91},{"l":3,"x":34.08,"y":5.1},{"l":3,"x":35.76,"y":5.1},{"l":3,"x":36.88,"y":4.82},{"l":3,"x":35.76,"y":4.54},{"l":3,"x":34.08,"y":4.54}],
"k9_7":[{"l":0,"x":22.8,"y":4.91},{"l":0,"x":24.09,"y":5.46},{"l":0,"x":26.24,"y":5.74},{"l":0,"x":29.25,"y":5.65},{"l":0,"x":31.4,"y":4.91},{"l":0,"x":30.11,"y":4.27},{"l":0,"x":27.1,"y":3.9},{"l":0,"x":24.09,"y":4.18},{"l":1,"x":23.66,"y":4.91},{"l":1,"x":25.38,"y":5.46},{"l":1,"x":28.39,"y":5.46},{"l":1,"x":30.11,"y":4.82},{"l":1,"x":28.39,"y":4.18},{"l":1,"x":25.38,"y":4.18},{"l":2,"x":24.09,"y":4.91},{"l":2,"x":25.81,"y":5.28},{"l":2,"x":27.96,"y":5.28},{"l":2,"x":29.25,"y":4.82},{"l":2,"x":27.96,"y":4.36},{"l":2,"x":25.81,"y":4.36},{"l":3,"x":24.95,"y":4.91},{"l":3,"x":26.24,"y":5.1},{"l":3,"x":27.53,"y":5.1},{"l":3,"x":28.39,"y":4.82},{"l":3,"x":27.53,"y":4.54},{"l":3,"x":26.24,"y":4.54}],
"k9_8":[{"l":0,"x":22.75,"y":4.91},{"l":0,"x":23.25,"y":5.46},{"l":0,"x":24.07,"y":5.74},{"l":0,"x":25.23,"y":5.65},{"l":0,"x":26.05,"y":4.91},{"l":0,"x":25.56,"y":4.27},{"l":0,"x":24.4,"y":3.9},{"l":0,"x":23.25,"y":4.18},{"l":1,"x":23.08,"y":4.91},{"l":1,"x":23.74,"y":5.46},{"l":1,"x":24.9,"y":5.46},{"l":1,"x":25.56,"y":4.82},{"l":1,"x":24.9,"y":4.18},{"l":1,"x":23.74,"y":4.18},{"l":2,"x":23.25,"y":4.91},{"l":2,"x":23.9,"y":5.28},{"l":2,"x":24.73,"y":5.28},{"l":2,"x":25.23,"y":4.82},{"l":2,"x":24.73,"y":4.36},{"l":2,"x":23.9,"y":4.36},{"l":3,"x":23.58,"y":4.91},{"l":3,"x":24.07,"y":5.1},{"l":3,"x":24.57,"y":5.1},{"l":3,"x":24.9,"y":4.82},{"l":3,"x":24.57,"y":4.54},{"l":3,"x":24.07,"y":4.54}],
"k10_1":[{"l":0,"x":425,"y":5.309},{"l":0,"x":450,"y":5.513},{"l":0,"x":492,"y":5.615},{"l":0,"x":551,"y":5.581},{"l":0,"x":593,"y":5.309},{"l":0,"x":568,"y":5.071},{"l":0,"x":509,"y":4.935},{"l":0,"x":450,"y":5.037},{"l":1,"x":442,"y":5.309},{"l":1,"x":475,"y":5.513},{"l":1,"x":534,"y":5.513},{"l":1,"x":568,"y":5.275},{"l":1,"x":534,"y":5.037},{"l":1,"x":475,"y":5.037},{"l":2,"x":450,"y":5.309},{"l":2,"x":484,"y":5.445},{"l":2,"x":526,"y":5.445},{"l":2,"x":551,"y":5.275},{"l":2,"x":526,"y":5.105},{"l":2,"x":484,"y":5.105},{"l":3,"x":467,"y":5.309},{"l":3,"x":492,"y":5.377},{"l":3,"x":517,"y":5.377},{"l":3,"x":534,"y":5.275},{"l":3,"x":517,"y":5.173},{"l":3,"x":492,"y":5.173}],
"k10_2":[{"l":0,"x":27.4,"y":5.309},{"l":0,"x":28.3,"y":5.513},{"l":0,"x":29.8,"y":5.615},{"l":0,"x":31.9,"y":5.581},{"l":0,"x":33.4,"y":5.309},{"l":0,"x":32.5,"y":5.071},{"l":0,"x":30.4,"y":4.935},{"l":0,"x":28.3,"y":5.037},{"l":1,"x":28,"y":5.309},{"l":1,"x":29.2,"y":5.513},{"l":1,"x":31.3,"y":5.513},{"l":1,"x":32.5,"y":5.275},{"l":1,"x":31.3,"y":5.037},{"l":1,"x":29.2,"y":5.037},{"l":2,"x":28.3,"y":5.309},{"l":2,"x":29.5,"y":5.445},{"l":2,"x":31,"y":5.445},{"l":2,"x":31.9,"y":5.275},{"l":2,"x":31,"y":5.105},{"l":2,"x":29.5,"y":5.105},{"l":3,"x":28.9,"y":5.309},{"l":3,"x":29.8,"y":5.377},{"l":3,"x":30.7,"y":5.377},{"l":3,"x":31.3,"y":5.275},{"l":3,"x":30.7,"y":5.173},{"l":3,"x":29.8,"y":5.173}],
"k10_3":[{"l":0,"x":31.25,"y":5.309},{"l":0,"x":32.4,"y":5.513},{"l":0,"x":34.33,"y":5.615},{"l":0,"x":37.03,"y":5.581},{"l":0,"x":38.95,"y":5.309},{"l":0,"x":37.8,"y":5.071},{"l":0,"x":35.1,"y":4.935},{"l":0,"x":32.4,"y":5.037},{"l":1,"x":32,"y":5.309},{"l":1,"x":33.56,"y":5.513},{"l":1,"x":36.26,"y":5.513},{"l":1,"x":37.8,"y":5.275},{"l":1,"x":36.26,"y":5.037},{"l":1,"x":33.56,"y":5.037},{"l":2,"x":32.4,"y":5.309},{"l":2,"x":33.95,"y":5.445},{"l":2,"x":35.87,"y":5.445},{"l":2,"x":37.03,"y":5.275},{"l":2,"x":35.87,"y":5.105},{"l":2,"x":33.95,"y":5.105},{"l":3,"x":33.2,"y":5.309},{"l":3,"x":34.33,"y":5.377},{"l":3,"x":35.49,"y":5.377},{"l":3,"x":36.26,"y":5.275},{"l":3,"x":35.49,"y":5.173},{"l":3,"x":34.33,"y":5.173}],
"k10_4":[{"l":0,"x":25.2,"y":5.309},{"l":0,"x":26.28,"y":5.513},{"l":0,"x":28.08,"y":5.615},{"l":0,"x":30.6,"y":5.581},{"l":0,"x":32.4,"y":5.309},{"l":0,"x":31.32,"y":5.071},{"l":0,"x":28.8,"y":4.935},{"l":0,"x":26.28,"y":5.037},{"l":1,"x":25.92,"y":5.309},{"l":1,"x":27.36,"y":5.513},{"l":1,"x":29.88,"y":5.513},{"l":1,"x":31.32,"y":5.275},{"l":1,"x":29.88,"y":5.037},{"l":1,"x":27.36,"y":5.037},{"l":2,"x":26.28,"y":5.309},{"l":2,"x":27.72,"y":5.445},{"l":2,"x":29.52,"y":5.445},{"l":2,"x":30.6,"y":5.275},{"l":2,"x":29.52,"y":5.105},{"l":2,"x":27.72,"y":5.105},{"l":3,"x":27,"y":5.309},{"l":3,"x":28.08,"y":5.377},{"l":3,"x":29.16,"y":5.377},{"l":3,"x":29.88,"y":5.275},{"l":3,"x":29.16,"y":5.173},{"l":3,"x":28.08,"y":5.173}],
"k10_5":[{"l":0,"x":21.7,"y":5.309},{"l":0,"x":22.9,"y":5.513},{"l":0,"x":24.9,"y":5.615},{"l":0,"x":27.7,"y":5.581},{"l":0,"x":29.7,"y":5.309},{"l":0,"x":28.5,"y":5.071},{"l":0,"x":25.7,"y":4.935},{"l":0,"x":22.9,"y":5.037},{"l":1,"x":22.5,"y":5.309},{"l":1,"x":24.1,"y":5.513},{"l":1,"x":26.9,"y":5.513},{"l":1,"x":28.5,"y":5.275},{"l":1,"x":26.9,"y":5.037},{"l":1,"x":24.1,"y":5.037},{"l":2,"x":22.9,"y":5.309},{"l":2,"x":24.5,"y":5.445},{"l":2,"x":26.5,"y":5.445},{"l":2,"x":27.7,"y":5.275},{"l":2,"x":26.5,"y":5.105},{"l":2,"x":24.5,"y":5.105},{"l":3,"x":23.7,"y":5.309},{"l":3,"x":24.9,"y":5.377},{"l":3,"x":26.1,"y":5.377},{"l":3,"x":26.9,"y":5.275},{"l":3,"x":26.1,"y":5.173},{"l":3,"x":24.9,"y":5.173}],
"k10_6":[{"l":0,"x":29.6,"y":5.309},{"l":0,"x":31.28,"y":5.513},{"l":0,"x":34.08,"y":5.615},{"l":0,"x":38,"y":5.581},{"l":0,"x":40.8,"y":5.309},{"l":0,"x":39.12,"y":5.071},{"l":0,"x":35.2,"y":4.935},{"l":0,"x":31.28,"y":5.037},{"l":1,"x":30.72,"y":5.309},{"l":1,"x":32.96,"y":5.513},{"l":1,"x":36.88,"y":5.513},{"l":1,"x":39.12,"y":5.275},{"l":1,"x":36.88,"y":5.037},{"l":1,"x":32.96,"y":5.037},{"l":2,"x":31.28,"y":5.309},{"l":2,"x":33.52,"y":5.445},{"l":2,"x":36.32,"y":5.445},{"l":2,"x":38,"y":5.275},{"l":2,"x":36.32,"y":5.105},{"l":2,"x":33.52,"y":5.105},{"l":3,"x":32.4,"y":5.309},{"l":3,"x":34.08,"y":5.377},{"l":3,"x":35.76,"y":5.377},{"l":3,"x":36.88,"y":5.275},{"l":3,"x":35.76,"y":5.173},{"l":3,"x":34.08,"y":5.173}],
"k10_7":[{"l":0,"x":22.8,"y":5.309},{"l":0,"x":24.09,"y":5.513},{"l":0,"x":26.24,"y":5.615},{"l":0,"x":29.25,"y":5.581},{"l":0,"x":31.4,"y":5.309},{"l":0,"x":30.11,"y":5.071},{"l":0,"x":27.1,"y":4.935},{"l":0,"x":24.09,"y":5.037},{"l":1,"x":23.66,"y":5.309},{"l":1,"x":25.38,"y":5.513},{"l":1,"x":28.39,"y":5.513},{"l":1,"x":30.11,"y":5.275},{"l":1,"x":28.39,"y":5.037},{"l":1,"x":25.38,"y":5.037},{"l":2,"x":24.09,"y":5.309},{"l":2,"x":25.81,"y":5.445},{"l":2,"x":27.96,"y":5.445},{"l":2,"x":29.25,"y":5.275},{"l":2,"x":27.96,"y":5.105},{"l":2,"x":25.81,"y":5.105},{"l":3,"x":24.95,"y":5.309},{"l":3,"x":26.24,"y":5.377},{"l":3,"x":27.53,"y":5.377},{"l":3,"x":28.39,"y":5.275},{"l":3,"x":27.53,"y":5.173},{"l":3,"x":26.24,"y":5.173}],
"k10_8":[{"l":0,"x":22.75,"y":5.309},{"l":0,"x":23.25,"y":5.513},{"l":0,"x":24.07,"y":5.615},{"l":0,"x":25.23,"y":5.581},{"l":0,"x":26.05,"y":5.309},{"l":0,"x":25.56,"y":5.071},{"l":0,"x":24.4,"y":4.935},{"l":0,"x":23.25,"y":5.037},{"l":1,"x":23.08,"y":5.309},{"l":1,"x":23.74,"y":5.513},{"l":1,"x":24.9,"y":5.513},{"l":1,"x":25.56,"y":5.275},{"l":1,"x":24.9,"y":5.037},{"l":1,"x":23.74,"y":5.037},{"l":2,"x":23.25,"y":5.309},{"l":2,"x":23.9,"y":5.445},{"l":2,"x":24.73,"y":5.445},{"l":2,"x":25.23,"y":5.275},{"l":2,"x":24.73,"y":5.105},{"l":2,"x":23.9,"y":5.105},{"l":3,"x":23.58,"y":5.309},{"l":3,"x":24.07,"y":5.377},{"l":3,"x":24.57,"y":5.377},{"l":3,"x":24.9,"y":5.275},{"l":3,"x":24.57,"y":5.173},{"l":3,"x":24.07,"y":5.173}],
"k10_9":[{"l":0,"x":4.03,"y":5.309},{"l":0,"x":4.31,"y":5.513},{"l":0,"x":4.77,"y":5.615},{"l":0,"x":5.41,"y":5.581},{"l":0,"x":5.87,"y":5.309},{"l":0,"x":5.59,"y":5.071},{"l":0,"x":4.95,"y":4.935},{"l":0,"x":4.31,"y":5.037},{"l":1,"x":4.21,"y":5.309},{"l":1,"x":4.58,"y":5.513},{"l":1,"x":5.23,"y":5.513},{"l":1,"x":5.59,"y":5.275},{"l":1,"x":5.23,"y":5.037},{"l":1,"x":4.58,"y":5.037},{"l":2,"x":4.31,"y":5.309},{"l":2,"x":4.67,"y":5.445},{"l":2,"x":5.13,"y":5.445},{"l":2,"x":5.41,"y":5.275},{"l":2,"x":5.13,"y":5.105},{"l":2,"x":4.67,"y":5.105},{"l":3,"x":4.49,"y":5.309},{"l":3,"x":4.77,"y":5.377},{"l":3,"x":5.04,"y":5.377},{"l":3,"x":5.23,"y":5.275},{"l":3,"x":5.04,"y":5.173},{"l":3,"x":4.77,"y":5.173}]
},
"concat":[
{"width":98,"height":50,"data":{"name":"h1"},"encoding":{"x":{"field":"x","type":"quantitative","scale":{"domain":[371,679],"nice":false},"axis":null}},"layer":[{"mark":{"type":"bar","width":1.4,"color":"#d0d0d0","clip":true},"encoding":{"y":{"field":"m","type":"quantitative","scale":{"domain":[0,100]},"axis":{"labels":false,"title":"H₁(s)","titleX":-27,"titleY":25}}}},{"mark":{"type":"bar","width":1.4,"color":"#a2a2a2","clip":true},"encoding":{"y":{"field":"n","type":"quantitative","scale":{"domain":[0,100]},"axis":{"labels":false,"title":"H₁(s)","titleX":-27,"titleY":25}}}}]},
{"width":98,"height":50,"data":{"values":[]},"mark":"point","encoding":{},"view":{"stroke":null}},
{"width":98,"height":50,"data":{"values":[]},"mark":"point","encoding":{},"view":{"stroke":null}},
{"width":98,"height":50,"data":{"values":[]},"mark":"point","encoding":{},"view":{"stroke":null}},
{"width":98,"height":50,"data":{"values":[]},"mark":"point","encoding":{},"view":{"stroke":null}},
{"width":98,"height":50,"data":{"values":[]},"mark":"point","encoding":{},"view":{"stroke":null}},
{"width":98,"height":50,"data":{"values":[]},"mark":"point","encoding":{},"view":{"stroke":null}},
{"width":98,"height":50,"data":{"values":[]},"mark":"point","encoding":{},"view":{"stroke":null}},
{"width":98,"height":50,"data":{"values":[]},"mark":"point","encoding":{},"view":{"stroke":null}},
{"width":89,"height":50,"data":{"values":[]},"mark":"point","encoding":{},"view":{"stroke":null}},

{"width":98,"height":50,"data":{"name":"k2_1"},"mark":"line","encoding":{"x":{"field":"x","type":"quantitative","scale":{"domain":[371,679],"nice":false},"axis":null},"y":{"field":"y","type":"quantitative","scale":{"domain":[26.2,39.7],"nice":false},"axis":{"values":[28,32,36],"title":"H₂(s)","titleX":-27,"titleY":25}},"color":{"field":"l","type":"ordinal"},"order":{"value":null}}},
{"width":98,"height":50,"data":{"name":"h2"},"encoding":{"x":{"field":"x","type":"quantitative","scale":{"domain":[24,37.5],"nice":false},"axis":null}},"layer":[{"mark":{"type":"bar","width":1.4,"color":"#d0d0d0","clip":true},"encoding":{"y":{"field":"m","type":"quantitative","scale":{"domain":[0,100]},"axis":null}}},{"mark":{"type":"bar","width":1.4,"color":"#a2a2a2","clip":true},"encoding":{"y":{"field":"n","type":"quantitative","scale":{"domain":[0,100]},"axis":null}}}]},
{"width":98,"height":50,"data":{"values":[]},"mark":"point","encoding":{},"view":{"stroke":null}},
{"width":98,"height":50,"data":{"values":[]},"mark":"point","encoding":{},"view":{"stroke":null}},
{"width":98,"height":50,"data":{"values":[]},"mark":"point","encoding":{},"view":{"stroke":null}},
{"width":98,"height":50,"data":{"values":[]},"mark":"point","encoding":{},"view":{"stroke":null}},
{"width":98,"height":50,"data":{"values":[]},"mark":"point","encoding":{},"view":{"stroke":null}},
{"width":98,"height":50,"data":{"values":[]},"mark":"point","encoding":{},"view":{"stroke":null}},
{"width":98,"height":50,"data":{"values":[]},"mark":"point","encoding":{},"view":{"stroke":null}},
{"width":89,"height":50,"data":{"values":[]},"mark":"point","encoding":{},"view":{"stroke":null}},

{"width":98,"height":50,"data":{"name":"k3_1"},"mark":"line","encoding":{"x":{"field":"x","type":"quantitative","scale":{"domain":[371,679],"nice":false},"axis":null},"y":{"field":"y","type":"quantitative","scale":{"domain":[28.7,45],"nice":false},"axis":{"values":[30,35,40],"title":"H₃(s)","titleX":-27,"titleY":25}},"color":{"field":"l","type":"ordinal"},"order":{"value":null}}},
{"width":98,"height":50,"data":{"name":"k3_2"},"mark":"line","encoding":{"x":{"field":"x","type":"quantitative","scale":{"domain":[24,37.5],"nice":false},"axis":null},"y":{"field":"y","type":"quantitative","scale":{"domain":[28.7,45],"nice":false},"axis":null},"color":{"field":"l","type":"ordinal"},"order":{"value":null}}},
{"width":98,"height":50,"data":{"name":"h3"},"encoding":{"x":{"field":"x","type":"quantitative","scale":{"domain":[29.2,44],"nice":false},"axis":null}},"layer":[{"mark":{"type":"bar","width":1.4,"color":"#d0d0d0","clip":true},"encoding":{"y":{"field":"m","type":"quantitative","scale":{"domain":[0,100]},"axis":null}}},{"mark":{"type":"bar","width":1.4,"color":"#a2a2a2","clip":true},"encoding":{"y":{"field":"n","type":"quantitative","scale":{"domain":[0,100]},"axis":null}}}]},
{"width":98,"height":50,"data":{"values":[]},"mark":"point","encoding":{},"view":{"stroke":null}},
{"width":98,"height":50,"data":{"values":[]},"mark":"point","encoding":{},"view":{"stroke":null}},
{"width":98,"height":50,"data":{"values":[]},"mark":"point","encoding":{},"view":{"stroke":null}},
{"width":98,"height":50,"data":{"values":[]},"mark":"point","encoding":{},"view":{"stroke":null}},
{"width":98,"height":50,"data":{"values":[]},"mark":"point","encoding":{},"view":{"stroke":null}},
{"width":98,"height":50,"data":{"values":[]},"mark":"point","encoding":{},"view":{"stroke":null}},
{"width":89,"height":50,"data":{"values":[]},"mark":"point","encoding":{},"view":{"stroke":null}},

{"width":98,"height":50,"data":{"name":"k4_1"},"mark":"line","encoding":{"x":{"field":"x","type":"quantitative","scale":{"domain":[371,679],"nice":false},"axis":null},"y":{"field":"y","type":"quantitative","scale":{"domain":[22.5,37],"nice":false},"axis":{"values":[25,30,35],"title":"H₄(s)","titleX":-27,"titleY":25}},"color":{"field":"l","type":"ordinal"},"order":{"value":null}}},
{"width":98,"height":50,"data":{"name":"k4_2"},"mark":"line","encoding":{"x":{"field":"x","type":"quantitative","scale":{"domain":[24,37.5],"nice":false},"axis":null},"y":{"field":"y","type":"quantitative","scale":{"domain":[22.5,37],"nice":false},"axis":null},"color":{"field":"l","type":"ordinal"},"order":{"value":null}}},
{"width":98,"height":50,"data":{"name":"k4_3"},"mark":"line","encoding":{"x":{"field":"x","type":"quantitative","scale":{"domain":[29.2,44],"nice":false},"axis":null},"y":{"field":"y","type":"quantitative","scale":{"domain":[22.5,37],"nice":false},"axis":null},"color":{"field":"l","type":"ordinal"},"order":{"value":null}}},
{"width":98,"height":50,"data":{"name":"h4"},"encoding":{"x":{"field":"x","type":"quantitative","scale":{"domain":[22.4,36.5],"nice":false},"axis":null}},"layer":[{"mark":{"type":"bar","width":1.4,"color":"#d0d0d0","clip":true},"encoding":{"y":{"field":"m","type":"quantitative","scale":{"domain":[0,100]},"axis":null}}},{"mark":{"type":"bar","width":1.4,"color":"#a2a2a2","clip":true},"encoding":{"y":{"field":"n","type":"quantitative","scale":{"domain":[0,100]},"axis":null}}}]},
{"width":98,"height":50,"data":{"values":[]},"mark":"point","encoding":{},"view":{"stroke":null}},
{"width":98,"height":50,"data":{"values":[]},"mark":"point","encoding":{},"view":{"stroke":null}},
{"width":98,"height":50,"data":{"values":[]},"mark":"point","encoding":{},"view":{"stroke":null}},
{"width":98,"height":50,"data":{"values":[]},"mark":"point","encoding":{},"view":{"stroke":null}},
{"width":98,"height":50,"data":{"values":[]},"mark":"point","encoding":{},"view":{"stroke":null}},
{"width":89,"height":50,"data":{"values":[]},"mark":"point","encoding":{},"view":{"stroke":null}},

{"width":98,"height":50,"data":{"name":"k5_1"},"mark":"line","encoding":{"x":{"field":"x","type":"quantitative","scale":{"domain":[371,679],"nice":false},"axis":null},"y":{"field":"y","type":"quantitative","scale":{"domain":[17.2,33.9],"nice":false},"axis":{"values":[20,25,30],"title":"H₅(s)","titleX":-27,"titleY":25}},"color":{"field":"l","type":"ordinal"},"order":{"value":null}}},
{"width":98,"height":50,"data":{"name":"k5_2"},"mark":"line","encoding":{"x":{"field":"x","type":"quantitative","scale":{"domain":[24,37.5],"nice":false},"axis":null},"y":{"field":"y","type":"quantitative","scale":{"domain":[17.2,33.9],"nice":false},"axis":null},"color":{"field":"l","type":"ordinal"},"order":{"value":null}}},
{"width":98,"height":50,"data":{"name":"k5_3"},"mark":"line","encoding":{"x":{"field":"x","type":"quantitative","scale":{"domain":[29.2,44],"nice":false},"axis":null},"y":{"field":"y","type":"quantitative","scale":{"domain":[17.2,33.9],"nice":false},"axis":null},"color":{"field":"l","type":"ordinal"},"order":{"value":null}}},
{"width":98,"height":50,"data":{"name":"k5_4"},"mark":"line","encoding":{"x":{"field":"x","type":"quantitative","scale":{"domain":[22.4,36.5],"nice":false},"axis":null},"y":{"field":"y","type":"quantitative","scale":{"domain":[17.2,33.9],"nice":false},"axis":null},"color":{"field":"l","type":"ordinal"},"order":{"value":null}}},
{"width":98,"height":50,"data":{"name":"h5"},"encoding":{"x":{"field":"x","type":"quantitative","scale":{"domain":[17.3,33.8],"nice":false},"axis":null}},"layer":[{"mark":{"type":"bar","width":1.4,"color":"#d0d0d0","clip":true},"encoding":{"y":{"field":"m","type":"quantitative","scale":{"domain":[0,100]},"axis":null}}},{"mark":{"type":"bar","width":1.4,"color":"#a2a2a2","clip":true},"encoding":{"y":{"field":"n","type":"quantitative","scale":{"domain":[0,100]},"axis":null}}}]},
{"width":98,"height":50,"data":{"values":[]},"mark":"point","encoding":{},"view":{"stroke":null}},
{"width":98,"height":50,"data":{"values":[]},"mark":"point","encoding":{},"view":{"stroke":null}},
{"width":98,"height":50,"data":{"values":[]},"mark":"point","encoding":{},"view":{"stroke":null}},
{"width":98,"height":50,"data":{"values":[]},"mark":"point","encoding":{},"view":{"stroke":null}},
{"width":89,"height":50,"data":{"values":[]},"mark":"point","encoding":{},"view":{"stroke":null}},

{"width":98,"height":50,"data":{"name":"k6_1"},"mark":"line","encoding":{"x":{"field":"x","type":"quantitative","scale":{"domain":[371,679],"nice":false},"axis":null},"y":{"field":"y","type":"quantitative","scale":{"domain":[26,46.7],"nice":false},"axis":{"values":[30,35,40],"title":"H₆(s)","titleX":-27,"titleY":25}},"color":{"field":"l","type":"ordinal"},"order":{"value":null}}},
{"width":98,"height":50,"data":{"name":"k6_2"},"mark":"line","encoding":{"x":{"field":"x","type":"quantitative","scale":{"domain":[24,37.5],"nice":false},"axis":null},"y":{"field":"y","type":"quantitative","scale":{"domain":[26,46.7],"nice":false},"axis":null},"color":{"field":"l","type":"ordinal"},"order":{"value":null}}},
{"width":98,"height":50,"data":{"name":"k6_3"},"mark":"line","encoding":{"x":{"field":"x","type":"quantitative","scale":{"domain":[29.2,44],"nice":false},"axis":null},"y":{"field":"y","type":"quantitative","scale":{"domain":[26,46.7],"nice":false},"axis":null},"color":{"field":"l","type":"ordinal"},"order":{"value":null}}},
{"width":98,"height":50,"data":{"name":"k6_4"},"mark":"line","encoding":{"x":{"field":"x","type":"quantitative","scale":{"domain":[22.4,36.5],"nice":false},"axis":null},"y":{"field":"y","type":"quantitative","scale":{"domain":[26,46.7],"nice":false},"axis":null},"color":{"field":"l","type":"ordinal"},"order":{"value":null}}},
{"width":98,"height":50,"data":{"name":"k6_5"},"mark":"line","encoding":{"x":{"field":"x","type":"quantitative","scale":{"domain":[17.3,33.8],"nice":false},"axis":null},"y":{"field":"y","type":"quantitative","scale":{"domain":[26,46.7],"nice":false},"axis":null},"color":{"field":"l","type":"ordinal"},"order":{"value":null}}},
{"width":98,"height":50,"data":{"name":"h6"},"encoding":{"x":{"field":"x","type":"quantitative","scale":{"domain":[25.8,46.9],"nice":false},"axis":null}},"layer":[{"mark":{"type":"bar","width":1.4,"color":"#d0d0d0","clip":true},"encoding":{"y":{"field":"m","type":"quantitative","scale":{"domain":[0,100]},"axis":null}}},{"mark":{"type":"bar","width":1.4,"color":"#a2a2a2","clip":true},"encoding":{"y":{"field":"n","type":"quantitative","scale":{"domain":[0,100]},"axis":null}}}]},
{"width":98,"height":50,"data":{"values":[]},"mark":"point","encoding":{},"view":{"stroke":null}},
{"width":98,"height":50,"data":{"values":[]},"mark":"point","encoding":{},"view":{"stroke":null}},
{"width":98,"height":50,"data":{"values":[]},"mark":"point","encoding":{},"view":{"stroke":null}},
{"width":89,"height":50,"data":{"values":[]},"mark":"point","encoding":{},"view":{"stroke":null}},

{"width":98,"height":50,"data":{"name":"k7_1"},"mark":"line","encoding":{"x":{"field":"x","type":"quantitative","scale":{"domain":[371,679],"nice":false},"axis":null},"y":{"field":"y","type":"quantitative","scale":{"domain":[18.4,37.1],"nice":false},"axis":{"values":[20,30],"title":"H₇(s)","titleX":-27,"titleY":25}},"color":{"field":"l","type":"ordinal"},"order":{"value":null}}},
{"width":98,"height":50,"data":{"name":"k7_2"},"mark":"line","encoding":{"x":{"field":"x","type":"quantitative","scale":{"domain":[24,37.5],"nice":false},"axis":null},"y":{"field":"y","type":"quantitative","scale":{"domain":[18.4,37.1],"nice":false},"axis":null},"color":{"field":"l","type":"ordinal"},"order":{"value":null}}},
{"width":98,"height":50,"data":{"name":"k7_3"},"mark":"line","encoding":{"x":{"field":"x","type":"quantitative","scale":{"domain":[29.2,44],"nice":false},"axis":null},"y":{"field":"y","type":"quantitative","scale":{"domain":[18.4,37.1],"nice":false},"axis":null},"color":{"field":"l","type":"ordinal"},"order":{"value":null}}},
{"width":98,"height":50,"data":{"name":"k7_4"},"mark":"line","encoding":{"x":{"field":"x","type":"quantitative","scale":{"domain":[22.4,36.5],"nice":false},"axis":null},"y":{"field":"y","type":"quantitative","scale":{"domain":[18.4,37.1],"nice":false},"axis":null},"color":{"field":"l","type":"ordinal"},"order":{"value":null}}},
{"width":98,"height":50,"data":{"name":"k7_5"},"mark":"line","encoding":{"x":{"field":"x","type":"quantitative","scale":{"domain":[17.3,33.8],"nice":false},"axis":null},"y":{"field":"y","type":"quantitative","scale":{"domain":[18.4,37.1],"nice":false},"axis":null},"color":{"field":"l","type":"ordinal"},"order":{"value":null}}},
{"width":98,"height":50,"data":{"name":"k7_6"},"mark":"line","encoding":{"x":{"field":"x","type":"quantitative","scale":{"domain":[25.8,46.9],"nice":false},"axis":null},"y":{"field":"y","type":"quantitative","scale":{"domain":[18.4,37.1],"nice":false},"axis":null},"color":{"field":"l","type":"ordinal"},"order":{"value":null}}},
{"width":98,"height":50,"data":{"name":"h7"},"encoding":{"x":{"field":"x","type":"quantitative","scale":{"domain":[18.8,36.9],"nice":false},"axis":null}},"layer":[{"mark":{"type":"bar","width":1.4,"color":"#d0d0d0","clip":true},"encoding":{"y":{"field":"m","type":"quantitative","scale":{"domain":[0,100]},"axis":null}}},{"mark":{"type":"bar","width":1.4,"color":"#a2a2a2","clip":true},"encoding":{"y":{"field":"n","type":"quantitative","scale":{"domain":[0,100]},"axis":null}}}]},
{"width":98,"height":50,"data":{"values":[]},"mark":"point","encoding":{},"view":{"stroke":null}},
{"width":98,"height":50,"data":{"values":[]},"mark":"point","encoding":{},"view":{"stroke":null}},
{"width":89,"height":50,"data":{"values":[]},"mark":"point","encoding":{},"view":{"stroke":null}},

{"width":98,"height":50,"data":{"name":"k8_1"},"mark":"line","encoding":{"x":{"field":"x","type":"quantitative","scale":{"domain":[371,679],"nice":false},"axis":null},"y":{"field":"y","type":"quantitative","scale":{"domain":[21.45,28.8],"nice":false},"axis":{"values":[22,24,26,28],"title":"H₈(s)","titleX":-27,"titleY":25}},"color":{"field":"l","type":"ordinal"},"order":{"value":null}}},
{"width":98,"height":50,"data":{"name":"k8_2"},"mark":"line","encoding":{"x":{"field":"x","type":"quantitative","scale":{"domain":[24,37.5],"nice":false},"axis":null},"y":{"field":"y","type":"quantitative","scale":{"domain":[21.45,28.8],"nice":false},"axis":null},"color":{"field":"l","type":"ordinal"},"order":{"value":null}}},
{"width":98,"height":50,"data":{"name":"k8_3"},"mark":"line","encoding":{"x":{"field":"x","type":"quantitative","scale":{"domain":[29.2,44],"nice":false},"axis":null},"y":{"field":"y","type":"quantitative","scale":{"domain":[21.45,28.8],"nice":false},"axis":null},"color":{"field":"l","type":"ordinal"},"order":{"value":null}}},
{"width":98,"height":50,"data":{"name":"k8_4"},"mark":"line","encoding":{"x":{"field":"x","type":"quantitative","scale":{"domain":[22.4,36.5],"nice":false},"axis":null},"y":{"field":"y","type":"quantitative","scale":{"domain":[21.45,28.8],"nice":false},"axis":null},"color":{"field":"l","type":"ordinal"},"order":{"value":null}}},
{"width":98,"height":50,"data":{"name":"k8_5"},"mark":"line","encoding":{"x":{"field":"x","type":"quantitative","scale":{"domain":[17.3,33.8],"nice":false},"axis":null},"y":{"field":"y","type":"quantitative","scale":{"domain":[21.45,28.8],"nice":false},"axis":null},"color":{"field":"l","type":"ordinal"},"order":{"value":null}}},
{"width":98,"height":50,"data":{"name":"k8_6"},"mark":"line","encoding":{"x":{"field":"x","type":"quantitative","scale":{"domain":[25.8,46.9],"nice":false},"axis":null},"y":{"field":"y","type":"quantitative","scale":{"domain":[21.45,28.8],"nice":false},"axis":null},"color":{"field":"l","type":"ordinal"},"order":{"value":null}}},
{"width":98,"height":50,"data":{"name":"k8_7"},"mark":"line","encoding":{"x":{"field":"x","type":"quantitative","scale":{"domain":[18.8,36.9],"nice":false},"axis":null},"y":{"field":"y","type":"quantitative","scale":{"domain":[21.45,28.8],"nice":false},"axis":null},"color":{"field":"l","type":"ordinal"},"order":{"value":null}}},
{"width":98,"height":50,"data":{"name":"h8"},"encoding":{"x":{"field":"x","type":"quantitative","scale":{"domain":[21.4,28.7],"nice":false},"axis":null}},"layer":[{"mark":{"type":"bar","width":1.4,"color":"#d0d0d0","clip":true},"encoding":{"y":{"field":"m","type":"quantitative","scale":{"domain":[0,100]},"axis":null}}},{"mark":{"type":"bar","width":1.4,"color":"#a2a2a2","clip":true},"encoding":{"y":{"field":"n","type":"quantitative","scale":{"domain":[0,100]},"axis":null}}}]},
{"width":98,"height":50,"data":{"values":[]},"mark":"point","encoding":{},"view":{"stroke":null}},
{"width":89,"height":50,"data":{"values":[]},"mark":"point","encoding":{},"view":{"stroke":null}},

{"width":98,"height":50,"data":{"name":"k9_1"},"mark":"line","encoding":{"x":{"field":"x","type":"quantitative","scale":{"domain":[371,679],"nice":false},"axis":null},"y":{"field":"y","type":"quantitative","scale":{"domain":[3,7],"nice":false},"axis":{"values":[4,6],"title":"H₉(s)","titleX":-27,"titleY":25}},"color":{"field":"l","type":"ordinal"},"order":{"value":null}}},
{"width":98,"height":50,"data":{"name":"k9_2"},"mark":"line","encoding":{"x":{"field":"x","type":"quantitative","scale":{"domain":[24,37.5],"nice":false},"axis":null},"y":{"field":"y","type":"quantitative","scale":{"domain":[3,7],"nice":false},"axis":null},"color":{"field":"l","type":"ordinal"},"order":{"value":null}}},
{"width":98,"height":50,"data":{"name":"k9_3"},"mark":"line","encoding":{"x":{"field":"x","type":"quantitative","scale":{"domain":[29.2,44],"nice":false},"axis":null},"y":{"field":"y","type":"quantitative","scale":{"domain":[3,7],"nice":false},"axis":null},"color":{"field":"l","type":"ordinal"},"order":{"value":null}}},
{"width":98,"height":50,"data":{"name":"k9_4"},"mark":"line","encoding":{"x":{"field":"x","type":"quantitative","scale":{"domain":[22.4,36.5],"nice":false},"axis":null},"y":{"field":"y","type":"quantitative","scale":{"domain":[3,7],"nice":false},"axis":null},"color":{"field":"l","type":"ordinal"},"order":{"value":null}}},
{"width":98,"height":50,"data":{"name":"k9_5"},"mark":"line","encoding":{"x":{"field":"x","type":"quantitative","scale":{"domain":[17.3,33.8],"nice":false},"axis":null},"y":{"field":"y","type":"quantitative","scale":{"domain":[3,7],"nice":false},"axis":null},"color":{"field":"l","type":"ordinal"},"order":{"value":null}}},
{"width":98,"height":50,"data":{"name":"k9_6"},"mark":"line","encoding":{"x":{"field":"x","type":"quantitative","scale":{"domain":[25.8,46.9],"nice":false},"axis":null},"y":{"field":"y","type":"quantitative","scale":{"domain":[3,7],"nice":false},"axis":null},"color":{"field":"l","type":"ordinal"},"order":{"value":null}}},
{"width":98,"height":50,"data":{"name":"k9_7"},"mark":"line","encoding":{"x":{"field":"x","type":"quantitative","scale":{"domain":[18.8,36.9],"nice":false},"axis":null},"y":{"field":"y","type":"quantitative","scale":{"domain":[3,7],"nice":false},"axis":null},"color":{"field":"l","type":"ordinal"},"order":{"value":null}}},
{"width":98,"height":50,"data":{"name":"k9_8"},"mark":"line","encoding":{"x":{"field":"x","type":"quantitative","scale":{"domain":[21.4,28.7],"nice":false},"axis":null},"y":{"field":"y","type":"quantitative","scale":{"domain":[3,7],"nice":false},"axis":null},"color":{"field":"l","type":"ordinal"},"order":{"value":null}}},
{"width":98,"height":50,"data":{"name":"h9"},"encoding":{"x":{"field":"x","type":"quantitative","scale":{"domain":[3.1,7.1],"nice":false},"axis":null}},"layer":[{"mark":{"type":"bar","width":1.4,"color":"#d0d0d0","clip":true},"encoding":{"y":{"field":"m","type":"quantitative","scale":{"domain":[0,100]},"axis":null}}},{"mark":{"type":"bar","width":1.4,"color":"#a2a2a2","clip":true},"encoding":{"y":{"field":"n","type":"quantitative","scale":{"domain":[0,100]},"axis":null}}}]},
{"width":89,"height":50,"data":{"values":[]},"mark":"point","encoding":{},"view":{"stroke":null}},

{"width":98,"height":50,"data":{"name":"k10_1"},"mark":"line","encoding":{"x":{"field":"x","type":"quantitative","scale":{"domain":[371,679],"nice":false},"axis":{"values":[400,500,600],"title":"H₁(s)"}},"y":{"field":"y","type":"quantitative","scale":{"domain":[4.62,5.94],"nice":false},"axis":{"values":[4.8,5.2,5.6],"format":".1f","title":"H₁₀(s)","titleX":-27,"titleY":25}},"color":{"field":"l","type":"ordinal"},"order":{"value":null}}},
{"width":98,"height":50,"data":{"name":"k10_2"},"mark":"line","encoding":{"x":{"field":"x","type":"quantitative","scale":{"domain":[24,37.5],"nice":false},"axis":{"values":[28,30,32],"title":"H₂(s)"}},"y":{"field":"y","type":"quantitative","scale":{"domain":[4.62,5.94],"nice":false},"axis":null},"color":{"field":"l","type":"ordinal"},"order":{"value":null}}},
{"width":98,"height":50,"data":{"name":"k10_3"},"mark":"line","encoding":{"x":{"field":"x","type":"quantitative","scale":{"domain":[29.2,44],"nice":false},"axis":{"values":[33,35,37],"title":"H₃(s)"}},"y":{"field":"y","type":"quantitative","scale":{"domain":[4.62,5.94],"nice":false},"axis":null},"color":{"field":"l","type":"ordinal"},"order":{"value":null}}},
{"width":98,"height":50,"data":{"name":"k10_4"},"mark":"line","encoding":{"x":{"field":"x","type":"quantitative","scale":{"domain":[22.4,36.5],"nice":false},"axis":{"values":[26,28,30],"title":"H₄(s)"}},"y":{"field":"y","type":"quantitative","scale":{"domain":[4.62,5.94],"nice":false},"axis":null},"color":{"field":"l","type":"ordinal"},"order":{"value":null}}},
{"width":98,"height":50,"data":{"name":"k10_5"},"mark":"line","encoding":{"x":{"field":"x","type":"quantitative","scale":{"domain":[17.3,33.8],"nice":false},"axis":{"values":[22,26,30],"title":"H₅(s)"}},"y":{"field":"y","type":"quantitative","scale":{"domain":[4.62,5.94],"nice":false},"axis":null},"color":{"field":"l","type":"ordinal"},"order":{"value":null}}},
{"width":98,"height":50,"data":{"name":"k10_6"},"mark":"line","encoding":{"x":{"field":"x","type":"quantitative","scale":{"domain":[25.8,46.9],"nice":false},"axis":{"values":[32,35,38],"title":"H₆(s)"}},"y":{"field":"y","type":"quantitative","scale":{"domain":[4.62,5.94],"nice":false},"axis":null},"color":{"field":"l","type":"ordinal"},"order":{"value":null}}},
{"width":98,"height":50,"data":{"name":"k10_7"},"mark":"line","encoding":{"x":{"field":"x","type":"quantitative","scale":{"domain":[18.8,36.9],"nice":false},"axis":{"values":[22,26,30],"title":"H₇(s)"}},"y":{"field":"y","type":"quantitative","scale":{"domain":[4.62,5.94],"nice":false},"axis":null},"color":{"field":"l","type":"ordinal"},"order":{"value":null}}},
{"width":98,"height":50,"data":{"name":"k10_8"},"mark":"line","encoding":{"x":{"field":"x","type":"quantitative","scale":{"domain":[21.4,28.7],"nice":false},"axis":{"values":[22,24,26],"title":"H₈(s)"}},"y":{"field":"y","type":"quantitative","scale":{"domain":[4.62,5.94],"nice":false},"axis":null},"color":{"field":"l","type":"ordinal"},"order":{"value":null}}},
{"width":98,"height":50,"data":{"name":"k10_9"},"mark":"line","encoding":{"x":{"field":"x","type":"quantitative","scale":{"domain":[3.1,7.1],"nice":false},"axis":{"values":[4,5,6],"title":"H₉(s)"}},"y":{"field":"y","type":"quantitative","scale":{"domain":[4.62,5.94],"nice":false},"axis":null},"color":{"field":"l","type":"ordinal"},"order":{"value":null}}},
{"width":89,"height":50,"data":{"name":"h10"},"encoding":{"x":{"field":"x","type":"quantitative","scale":{"domain":[4.59,5.87],"nice":false},"axis":{"values":[5.0,5.3,5.6],"format":".1f","title":"H₁₀(s)"}}},"layer":[{"mark":{"type":"bar","width":1.4,"color":"#d0d0d0","clip":true},"encoding":{"y":{"field":"m","type":"quantitative","scale":{"domain":[0,100]},"axis":null}}},{"mark":{"type":"bar","width":1.4,"color":"#a2a2a2","clip":true},"encoding":{"y":{"field":"n","type":"quantitative","scale":{"domain":[0,100]},"axis":null}}}]}
]
}
